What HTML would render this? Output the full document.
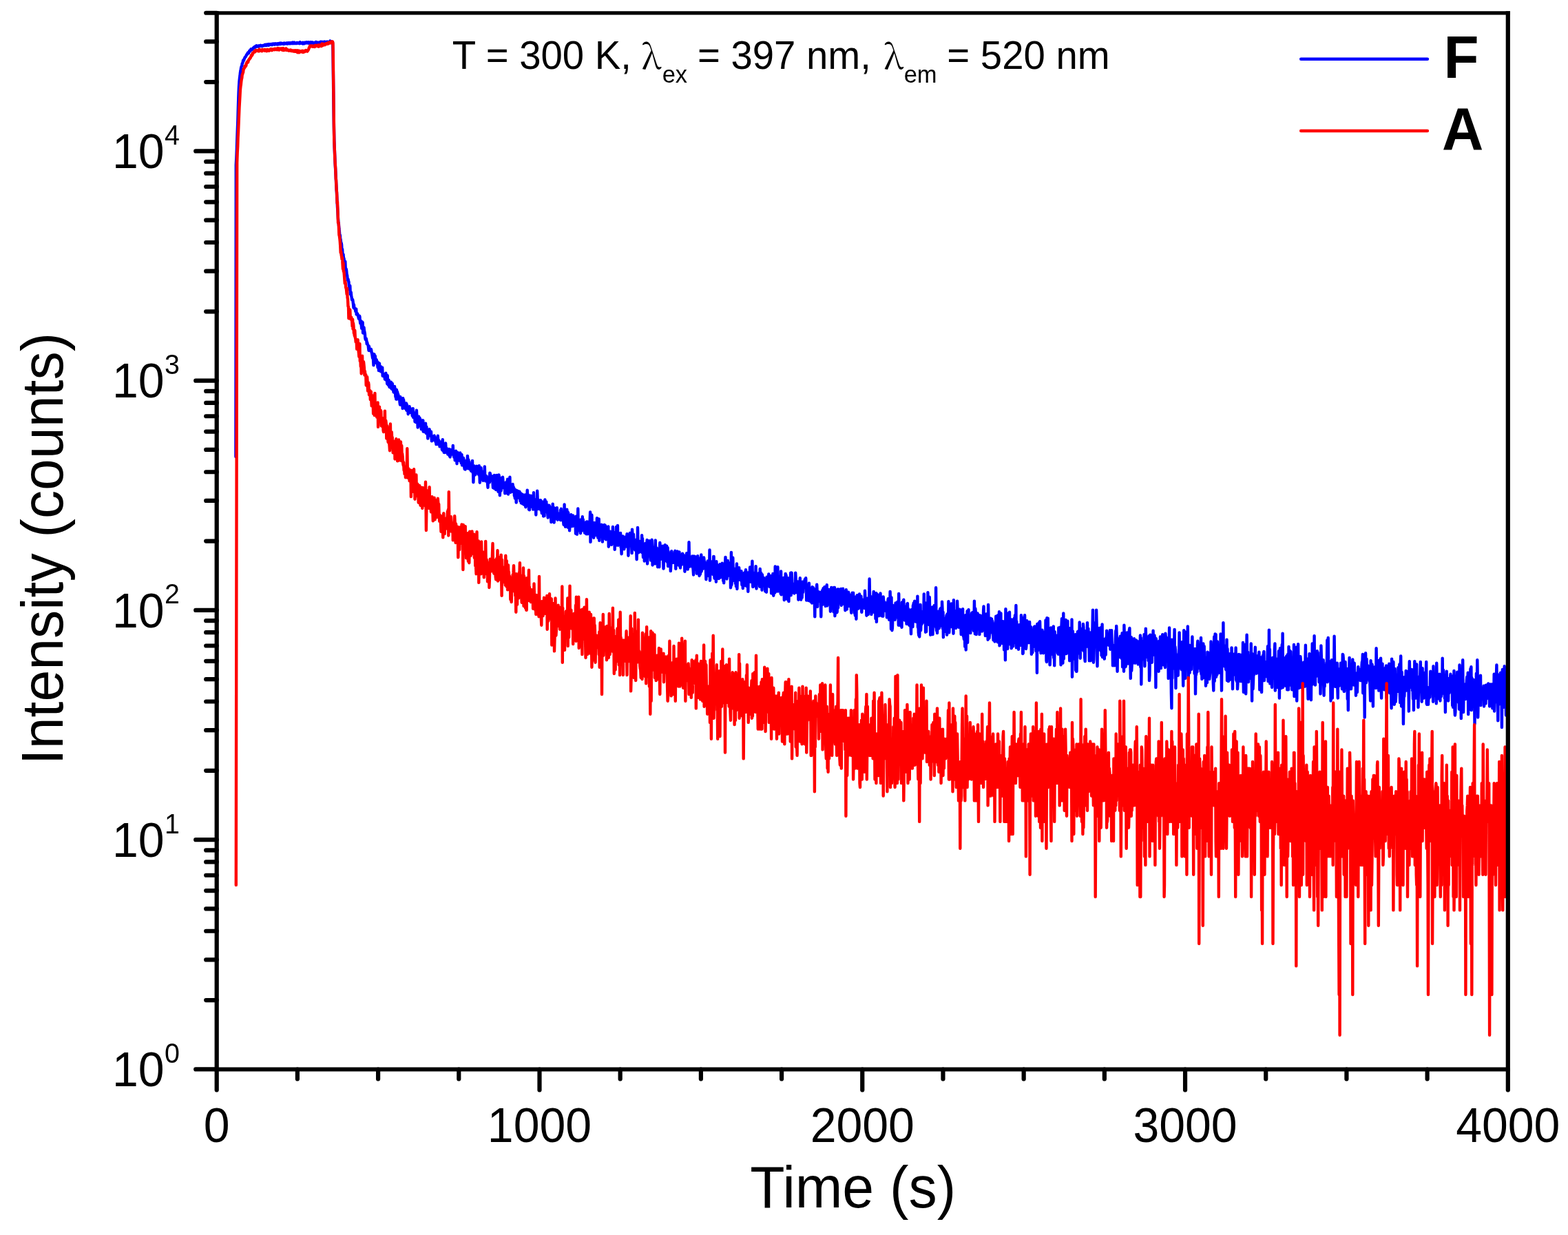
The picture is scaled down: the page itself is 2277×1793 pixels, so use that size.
<!DOCTYPE html>
<html><head><meta charset="utf-8"><title>Intensity vs Time</title>
<style>html,body{margin:0;padding:0;background:#fff;overflow:hidden}svg{display:block}</style>
</head><body>
<svg width="2277" height="1793" viewBox="0 0 2277 1793">
<rect width="2277" height="1793" fill="#fff"/>
<defs><clipPath id="c"><rect x="314.7" y="18.85" width="1875.1000000000001" height="1533.65"/></clipPath></defs>
<g clip-path="url(#c)">
<polyline fill="none" stroke="#0000ff" stroke-width="4.4" stroke-linejoin="round" stroke-linecap="round" points="342.4,663.0 342.8,239.7 343.3,229.8 343.8,217.4 344.2,205.0 344.7,191.4 345.2,178.8 345.6,166.4 346.1,148.2 346.6,134.2 347.0,125.5 347.5,117.9 348.0,113.2 348.5,109.9 348.9,105.7 349.4,103.0 349.9,99.9 350.3,97.6 350.8,96.1 351.3,95.4 351.7,92.3 352.2,91.8 352.7,90.2 353.1,87.7 353.6,87.4 354.1,87.6 354.5,85.7 355.0,85.2 355.5,83.6 356.0,82.8 356.4,82.7 356.9,82.2 357.4,81.0 357.8,79.9 358.3,79.6 358.8,78.5 359.2,78.6 359.7,77.1 360.2,76.4 360.6,77.0 361.1,77.2 361.6,75.8 362.0,74.5 362.5,73.5 363.0,73.7 363.5,73.9 363.9,73.1 364.4,71.3 364.9,72.4 365.3,71.8 365.8,72.1 366.3,72.1 366.7,71.2 367.2,70.4 367.7,69.9 368.1,69.4 368.6,68.8 369.1,68.3 369.5,69.4 370.0,68.5 370.5,67.6 371.0,67.8 371.4,67.5 371.9,68.1 372.4,66.3 372.8,66.6 373.3,67.2 373.8,67.2 374.2,66.7 374.7,66.8 375.2,67.7 375.6,66.7 376.1,66.3 376.6,66.4 377.0,66.5 377.5,66.7 378.0,66.6 378.5,65.9 378.9,66.6 379.4,67.0 379.9,66.5 380.3,66.9 380.8,67.1 381.3,66.6 381.7,65.9 382.2,65.9 382.7,66.3 383.1,66.0 383.6,66.0 384.1,66.1 384.5,65.1 385.0,65.8 385.5,66.0 386.0,64.9 386.4,65.2 386.9,65.2 387.4,65.8 387.8,64.5 388.3,64.4 388.8,65.6 389.2,65.6 389.7,64.7 390.2,65.7 390.6,64.1 391.1,64.8 391.6,64.7 392.0,65.0 392.5,64.4 393.0,64.0 393.5,64.7 393.9,64.6 394.4,64.6 394.9,65.1 395.3,63.8 395.8,64.7 396.3,64.6 396.7,63.5 397.2,64.3 397.7,63.8 398.1,64.1 398.6,64.6 399.1,63.8 399.5,63.3 400.0,63.7 400.5,64.1 401.0,63.5 401.4,63.9 401.9,63.4 402.4,63.4 402.8,64.6 403.3,63.4 403.8,63.8 404.2,63.6 404.7,63.2 405.2,64.1 405.6,63.5 406.1,63.9 406.6,63.3 407.0,62.6 407.5,63.2 408.0,64.0 408.5,62.8 408.9,63.5 409.4,62.9 409.9,63.4 410.3,63.3 410.8,63.4 411.3,63.6 411.7,63.9 412.2,62.6 412.7,62.5 413.1,63.8 413.6,63.7 414.1,63.1 414.6,63.2 415.0,63.0 415.5,62.6 416.0,63.1 416.4,62.6 416.9,62.8 417.4,63.7 417.8,63.2 418.3,62.4 418.8,63.1 419.2,62.4 419.7,63.3 420.2,62.7 420.6,62.2 421.1,62.2 421.6,63.2 422.1,62.3 422.5,63.1 423.0,62.6 423.5,63.0 423.9,62.7 424.4,62.6 424.9,61.6 425.3,63.2 425.8,62.0 426.3,62.3 426.7,63.0 427.2,61.6 427.7,62.2 428.1,62.9 428.6,62.5 429.1,62.7 429.6,63.0 430.0,62.7 430.5,63.0 431.0,62.0 431.4,62.4 431.9,62.4 432.4,62.0 432.8,62.7 433.3,62.5 433.8,62.4 434.2,62.9 434.7,62.7 435.2,63.2 435.6,61.2 436.1,62.1 436.6,62.2 437.1,62.8 437.5,62.5 438.0,62.1 438.5,62.3 438.9,62.0 439.4,61.8 439.9,63.6 440.3,62.5 440.8,62.4 441.3,62.2 441.7,61.9 442.2,63.3 442.7,62.9 443.1,62.0 443.6,62.2 444.1,61.8 444.6,61.4 445.0,62.4 445.5,62.5 446.0,61.7 446.4,61.9 446.9,62.1 447.4,62.2 447.8,61.3 448.3,62.7 448.8,61.9 449.2,62.3 449.7,61.5 450.2,62.4 450.6,62.8 451.1,61.2 451.6,62.7 452.1,62.7 452.5,61.9 453.0,61.5 453.5,62.5 453.9,61.6 454.4,62.1 454.9,62.5 455.3,63.1 455.8,62.1 456.3,62.3 456.7,62.3 457.2,62.3 457.7,62.3 458.1,62.2 458.6,60.9 459.1,61.9 459.6,62.2 460.0,61.3 460.5,62.1 461.0,62.1 461.4,62.2 461.9,61.9 462.4,62.5 462.8,62.2 463.3,61.8 463.8,61.4 464.2,62.3 464.7,61.1 465.2,61.1 465.6,61.2 466.1,60.7 466.6,61.2 467.1,61.3 467.5,61.2 468.0,61.3 468.5,61.8 468.9,60.7 469.4,61.1 469.9,62.1 470.3,61.0 470.8,61.7 471.3,60.9 471.7,60.5 472.2,61.7 472.7,61.1 473.1,61.8 473.6,61.4 474.1,61.6 474.6,61.0 475.0,60.6 475.5,60.8 476.0,61.6 476.4,61.1 476.9,61.4 477.4,61.0 477.8,60.7 478.3,61.1 478.8,60.5 479.2,59.4 479.7,60.8 480.2,60.8 480.6,61.5 481.1,60.2 481.6,61.8 482.1,60.5 482.5,60.7 483.0,61.2 483.5,74.5 483.9,107.5 484.4,147.6 484.9,183.6 485.3,202.8 485.8,216.5 486.3,228.0 486.7,237.9 487.2,246.9 487.7,255.5 488.1,265.4 488.6,273.5 489.1,283.0 489.6,292.4 490.0,300.6 490.5,308.2 491.0,317.8 491.4,321.8 491.9,325.8 492.4,331.6 492.8,335.1 493.3,341.4 493.8,341.2 494.2,345.5 494.7,348.4 495.2,352.7 495.6,352.8 496.1,355.3 496.6,365.5 497.1,361.6 497.5,368.7 498.0,369.0 498.5,369.2 498.9,374.1 499.4,374.9 499.9,378.6 500.3,384.3 500.8,381.5 501.3,379.7 501.7,388.7 502.2,390.7 502.7,390.5 503.1,392.5 503.6,398.3 504.1,399.5 504.6,404.1 505.0,406.6 505.5,405.2 506.0,408.5 506.4,408.6 506.9,415.2 507.4,417.3 507.8,420.6 508.3,414.9 508.8,427.2 509.2,425.0 509.7,424.3 510.2,429.7 510.7,431.9 511.1,435.3 511.6,435.2 512.1,435.0 512.5,437.2 513.0,441.5 513.5,446.7 513.9,442.2 514.4,446.8 514.9,447.4 515.3,448.6 515.8,448.7 516.3,452.0 516.7,449.9 517.2,448.5 517.7,456.5 518.2,456.7 518.6,456.9 519.1,455.4 519.6,457.0 520.0,458.4 520.5,460.5 521.0,462.7 521.4,459.9 521.9,458.5 522.4,459.6 522.8,465.6 523.3,469.4 523.8,465.8 524.2,469.2 524.7,471.7 525.2,476.7 525.7,467.2 526.1,473.0 526.6,467.9 527.1,483.5 527.5,475.7 528.0,481.0 528.5,475.5 528.9,479.9 529.4,481.9 529.9,484.7 530.3,490.7 530.8,493.1 531.3,492.5 531.7,491.6 532.2,493.7 532.7,499.3 533.2,497.1 533.6,499.3 534.1,500.5 534.6,501.2 535.0,504.6 535.5,508.8 536.0,502.9 536.4,507.8 536.9,506.4 537.4,508.9 537.8,508.4 538.3,509.5 538.8,506.9 539.2,508.5 539.7,511.8 540.2,514.0 540.7,517.2 541.1,519.9 541.6,513.6 542.1,523.3 542.5,530.4 543.0,515.7 543.5,514.4 543.9,522.2 544.4,523.9 544.9,517.0 545.3,524.8 545.8,524.0 546.3,527.0 546.7,522.2 547.2,524.8 547.7,524.7 548.2,529.5 548.6,533.6 549.1,528.2 549.6,526.6 550.0,538.1 550.5,537.8 551.0,527.6 551.4,534.0 551.9,537.0 552.4,532.4 552.8,539.2 553.3,532.5 553.8,539.2 554.2,537.2 554.7,540.4 555.2,533.6 555.7,545.9 556.1,544.2 556.6,545.2 557.1,546.1 557.5,544.7 558.0,543.8 558.5,544.0 558.9,550.6 559.4,549.0 559.9,551.2 560.3,541.7 560.8,545.5 561.3,546.7 561.7,548.9 562.2,557.2 562.7,545.3 563.2,557.0 563.6,558.6 564.1,555.9 564.6,551.6 565.0,559.5 565.5,561.9 566.0,556.4 566.4,560.8 566.9,560.3 567.4,562.9 567.8,554.6 568.3,563.5 568.8,564.8 569.2,559.2 569.7,556.7 570.2,563.2 570.7,565.0 571.1,566.7 571.6,569.4 572.1,567.7 572.5,569.1 573.0,561.0 573.5,564.9 573.9,567.4 574.4,576.2 574.9,573.3 575.3,579.6 575.8,565.6 576.3,567.8 576.7,579.5 577.2,569.1 577.7,577.9 578.2,572.4 578.6,577.3 579.1,575.2 579.6,577.6 580.0,577.1 580.5,583.9 581.0,587.5 581.4,576.3 581.9,583.7 582.4,583.9 582.8,578.8 583.3,587.7 583.8,584.3 584.2,584.4 584.7,593.0 585.2,578.1 585.7,591.2 586.1,580.5 586.6,584.5 587.1,587.8 587.5,587.1 588.0,588.7 588.5,593.0 588.9,586.8 589.4,590.5 589.9,585.5 590.3,595.7 590.8,587.2 591.3,591.0 591.7,590.4 592.2,592.8 592.7,601.2 593.2,592.1 593.6,592.6 594.1,593.7 594.6,590.3 595.0,594.9 595.5,593.7 596.0,597.2 596.4,599.1 596.9,595.7 597.4,593.7 597.8,597.9 598.3,599.5 598.8,603.8 599.2,601.6 599.7,593.2 600.2,606.1 600.7,600.9 601.1,605.2 601.6,602.5 602.1,599.3 602.5,612.3 603.0,599.7 603.5,607.2 603.9,613.0 604.4,610.1 604.9,595.7 605.3,603.5 605.8,604.0 606.3,609.9 606.7,620.6 607.2,608.2 607.7,608.9 608.2,604.8 608.6,617.1 609.1,617.7 609.6,607.0 610.0,617.1 610.5,609.0 611.0,613.9 611.4,620.1 611.9,623.2 612.4,618.2 612.8,621.7 613.3,620.5 613.8,612.7 614.3,610.3 614.7,626.6 615.2,616.4 615.7,620.8 616.1,622.4 616.6,618.5 617.1,627.4 617.5,618.5 618.0,614.6 618.5,621.9 618.9,629.1 619.4,619.7 619.9,625.4 620.3,623.8 620.8,628.7 621.3,636.6 621.8,631.6 622.2,630.3 622.7,631.7 623.2,625.9 623.6,623.1 624.1,632.2 624.6,630.7 625.0,629.0 625.5,633.0 626.0,626.7 626.4,632.8 626.9,640.4 627.4,638.7 627.8,638.9 628.3,637.1 628.8,636.6 629.3,638.9 629.7,636.2 630.2,632.9 630.7,632.6 631.1,637.8 631.6,635.0 632.1,638.3 632.5,641.4 633.0,641.5 633.5,645.1 633.9,642.4 634.4,638.0 634.9,642.5 635.3,644.8 635.8,632.8 636.3,641.5 636.8,644.7 637.2,639.2 637.7,642.2 638.2,644.6 638.6,648.4 639.1,645.3 639.6,645.3 640.0,643.7 640.5,641.8 641.0,646.4 641.4,642.8 641.9,653.0 642.4,645.8 642.8,638.2 643.3,654.4 643.8,644.4 644.3,648.6 644.7,656.8 645.2,649.4 645.7,657.1 646.1,649.2 646.6,646.5 647.1,643.4 647.5,650.1 648.0,655.6 648.5,650.6 648.9,656.4 649.4,657.6 649.9,653.7 650.3,659.6 650.8,655.2 651.3,656.2 651.8,652.6 652.2,652.0 652.7,662.0 653.2,652.5 653.6,663.5 654.1,659.3 654.6,653.0 655.0,656.5 655.5,653.4 656.0,655.6 656.4,653.1 656.9,655.2 657.4,656.4 657.8,646.9 658.3,661.0 658.8,658.8 659.3,663.7 659.7,664.0 660.2,659.2 660.7,668.4 661.1,663.5 661.6,662.5 662.1,654.7 662.5,655.7 663.0,658.5 663.5,673.2 663.9,659.0 664.4,656.8 664.9,660.1 665.3,667.5 665.8,666.3 666.3,668.5 666.8,659.7 667.2,665.1 667.7,668.8 668.2,657.4 668.6,666.4 669.1,665.2 669.6,672.1 670.0,664.3 670.5,660.0 671.0,675.5 671.4,666.2 671.9,670.9 672.4,672.8 672.8,664.6 673.3,666.4 673.8,673.6 674.3,678.5 674.7,680.9 675.2,675.1 675.7,681.6 676.1,675.1 676.6,669.1 677.1,669.2 677.5,669.1 678.0,668.9 678.5,673.2 678.9,662.0 679.4,668.9 679.9,680.3 680.3,667.4 680.8,678.5 681.3,670.5 681.8,679.2 682.2,677.0 682.7,681.5 683.2,675.1 683.6,674.4 684.1,683.9 684.6,680.0 685.0,674.9 685.5,680.0 686.0,668.9 686.4,685.9 686.9,676.5 687.4,700.2 687.8,687.4 688.3,676.7 688.8,676.6 689.3,680.7 689.7,678.8 690.2,689.2 690.7,683.9 691.1,686.6 691.6,684.3 692.1,678.7 692.5,676.8 693.0,681.1 693.5,679.0 693.9,687.2 694.4,679.2 694.9,688.4 695.3,689.4 695.8,676.3 696.3,684.5 696.8,700.8 697.2,687.6 697.7,687.5 698.2,691.2 698.6,679.3 699.1,688.3 699.6,685.3 700.0,689.8 700.5,686.8 701.0,689.8 701.4,697.9 701.9,690.3 702.4,686.4 702.8,684.2 703.3,690.7 703.8,677.5 704.3,692.8 704.7,695.6 705.2,698.4 705.7,692.0 706.1,691.8 706.6,691.4 707.1,696.2 707.5,696.0 708.0,702.1 708.5,707.7 708.9,696.0 709.4,695.7 709.9,700.0 710.4,697.7 710.8,700.3 711.3,686.8 711.8,687.2 712.2,694.3 712.7,697.6 713.2,696.2 713.6,696.4 714.1,694.3 714.6,691.3 715.0,693.1 715.5,699.9 716.0,708.1 716.4,701.1 716.9,699.5 717.4,709.0 717.9,689.9 718.3,695.6 718.8,701.9 719.3,696.7 719.7,690.6 720.2,711.1 720.7,703.6 721.1,708.3 721.6,689.9 722.1,707.0 722.5,703.1 723.0,704.2 723.5,713.8 723.9,701.2 724.4,689.4 724.9,692.0 725.4,700.5 725.8,719.3 726.3,708.7 726.8,704.3 727.2,695.0 727.7,712.5 728.2,693.9 728.6,702.8 729.1,707.0 729.6,700.5 730.0,692.7 730.5,698.4 731.0,708.3 731.4,706.0 731.9,701.9 732.4,700.9 732.9,705.4 733.3,716.3 733.8,704.6 734.3,707.2 734.7,712.8 735.2,709.0 735.7,699.5 736.1,708.1 736.6,716.0 737.1,695.6 737.5,708.7 738.0,717.5 738.5,710.3 738.9,713.9 739.4,712.5 739.9,708.6 740.4,692.7 740.8,710.0 741.3,714.9 741.8,706.1 742.2,713.0 742.7,713.9 743.2,713.3 743.6,711.7 744.1,706.3 744.6,703.0 745.0,713.4 745.5,706.6 746.0,714.6 746.4,708.7 746.9,720.0 747.4,719.6 747.9,723.5 748.3,710.9 748.8,714.1 749.3,718.0 749.7,729.6 750.2,719.5 750.7,712.2 751.1,717.6 751.6,718.0 752.1,718.8 752.5,713.3 753.0,720.6 753.5,716.5 753.9,723.2 754.4,713.8 754.9,714.9 755.4,727.3 755.8,717.6 756.3,716.3 756.8,730.3 757.2,727.7 757.7,730.5 758.2,725.8 758.6,717.6 759.1,731.6 759.6,725.9 760.0,730.0 760.5,725.4 761.0,732.7 761.4,730.2 761.9,731.2 762.4,718.5 762.9,727.0 763.3,736.2 763.8,733.8 764.3,727.3 764.7,731.2 765.2,728.0 765.7,711.7 766.1,721.8 766.6,728.6 767.1,727.5 767.5,718.8 768.0,739.6 768.5,727.3 768.9,740.4 769.4,727.7 769.9,731.2 770.4,724.2 770.8,719.6 771.3,730.9 771.8,725.4 772.2,735.8 772.7,730.5 773.2,731.1 773.6,728.7 774.1,739.6 774.6,726.3 775.0,715.2 775.5,734.9 776.0,728.9 776.4,733.2 776.9,739.8 777.4,727.7 777.9,730.3 778.3,747.5 778.8,724.9 779.3,737.7 779.7,736.6 780.2,712.8 780.7,725.4 781.1,725.1 781.6,739.0 782.1,730.0 782.5,737.3 783.0,735.3 783.5,730.9 783.9,733.8 784.4,739.0 784.9,726.1 785.4,740.6 785.8,727.3 786.3,737.5 786.8,745.1 787.2,728.4 787.7,728.7 788.2,733.8 788.6,730.7 789.1,749.5 789.6,732.5 790.0,743.1 790.5,749.1 791.0,727.5 791.4,725.4 791.9,743.1 792.4,735.3 792.9,730.5 793.3,728.4 793.8,738.5 794.3,740.4 794.7,740.9 795.2,745.1 795.7,751.6 796.1,736.4 796.6,733.8 797.1,749.3 797.5,733.6 798.0,735.1 798.5,740.8 798.9,736.6 799.4,739.6 799.9,743.1 800.4,758.1 800.8,742.7 801.3,750.5 801.8,739.6 802.2,754.9 802.7,731.8 803.2,750.1 803.6,736.2 804.1,739.6 804.6,758.6 805.0,753.2 805.5,737.7 806.0,738.1 806.5,741.7 806.9,750.9 807.4,738.6 807.9,746.9 808.3,744.9 808.8,737.1 809.3,754.3 809.7,754.7 810.2,746.5 810.7,748.1 811.1,751.1 811.6,745.7 812.1,753.6 812.5,747.9 813.0,753.0 813.5,754.7 814.0,740.4 814.4,755.3 814.9,738.8 815.4,752.8 815.8,746.7 816.3,754.9 816.8,748.9 817.2,747.7 817.7,750.5 818.2,757.9 818.6,761.7 819.1,757.9 819.6,732.5 820.0,752.0 820.5,761.0 821.0,764.8 821.5,752.2 821.9,749.1 822.4,740.2 822.9,756.2 823.3,739.8 823.8,750.3 824.3,743.3 824.7,765.7 825.2,744.3 825.7,763.0 826.1,754.5 826.6,759.4 827.1,770.4 827.5,754.1 828.0,765.5 828.5,760.5 829.0,763.5 829.4,747.1 829.9,750.3 830.4,763.5 830.8,755.1 831.3,761.9 831.8,763.9 832.2,748.5 832.7,753.0 833.2,757.3 833.6,760.1 834.1,761.9 834.6,760.1 835.0,763.0 835.5,754.5 836.0,774.7 836.5,749.7 836.9,757.3 837.4,756.0 837.9,775.7 838.3,771.3 838.8,763.7 839.3,738.5 839.7,761.7 840.2,754.3 840.7,769.9 841.1,755.1 841.6,759.0 842.1,769.7 842.5,763.7 843.0,774.2 843.5,757.1 844.0,754.1 844.4,765.3 844.9,770.6 845.4,766.9 845.8,750.3 846.3,767.8 846.8,754.3 847.2,765.5 847.7,759.4 848.2,760.1 848.6,761.9 849.1,773.7 849.6,765.3 850.0,764.4 850.5,767.3 851.0,758.1 851.5,775.4 851.9,757.5 852.4,774.9 852.9,757.5 853.3,775.4 853.8,766.9 854.3,771.8 854.7,768.0 855.2,768.0 855.7,770.1 856.1,761.2 856.6,757.7 857.1,743.5 857.5,786.9 858.0,767.8 858.5,775.4 859.0,770.4 859.4,747.7 859.9,766.6 860.4,759.4 860.8,759.2 861.3,763.5 861.8,777.2 862.2,780.7 862.7,777.2 863.2,759.0 863.6,763.2 864.1,770.1 864.6,762.8 865.0,772.5 865.5,764.4 866.0,759.9 866.5,777.4 866.9,752.2 867.4,772.5 867.9,764.6 868.3,780.7 868.8,770.1 869.3,773.2 869.7,753.4 870.2,784.8 870.7,771.8 871.1,775.4 871.6,763.0 872.1,777.2 872.5,766.4 873.0,767.3 873.5,761.7 874.0,764.6 874.4,762.3 874.9,786.6 875.4,771.3 875.8,771.3 876.3,777.9 876.8,763.7 877.2,776.7 877.7,761.9 878.2,781.9 878.6,769.9 879.1,763.2 879.6,779.7 880.0,783.2 880.5,782.7 881.0,773.5 881.5,772.0 881.9,768.7 882.4,773.7 882.9,772.8 883.3,764.4 883.8,793.7 884.3,779.9 884.7,780.9 885.2,781.7 885.7,790.1 886.1,771.8 886.6,774.5 887.1,777.4 887.5,786.9 888.0,790.9 888.5,779.7 889.0,778.6 889.4,786.9 889.9,765.0 890.4,784.0 890.8,785.8 891.3,789.3 891.8,774.0 892.2,773.0 892.7,797.9 893.2,778.1 893.6,776.7 894.1,780.7 894.6,781.9 895.0,765.0 895.5,791.5 896.0,778.9 896.5,785.6 896.9,763.0 897.4,791.7 897.9,785.6 898.3,781.7 898.8,774.5 899.3,782.7 899.7,780.2 900.2,790.1 900.7,779.7 901.1,774.0 901.6,794.5 902.1,795.1 902.6,804.3 903.0,783.5 903.5,788.0 904.0,787.4 904.4,778.4 904.9,795.4 905.4,785.8 905.8,787.4 906.3,797.3 906.8,794.5 907.2,779.7 907.7,780.9 908.2,790.4 908.6,790.7 909.1,789.8 909.6,783.5 910.1,781.9 910.5,775.2 911.0,794.2 911.5,792.3 911.9,784.3 912.4,806.7 912.9,789.6 913.3,790.4 913.8,789.3 914.3,787.4 914.7,774.0 915.2,790.9 915.7,792.0 916.1,773.7 916.6,785.8 917.1,790.9 917.6,803.1 918.0,768.7 918.5,776.4 919.0,786.1 919.4,795.1 919.9,775.7 920.4,784.5 920.8,793.1 921.3,796.5 921.8,792.8 922.2,798.5 922.7,794.0 923.2,784.0 923.6,787.2 924.1,795.9 924.6,812.3 925.1,793.4 925.5,794.8 926.0,766.0 926.5,786.4 926.9,788.8 927.4,802.3 927.9,799.3 928.3,785.6 928.8,792.3 929.3,788.2 929.7,793.7 930.2,793.4 930.7,801.1 931.1,791.2 931.6,801.7 932.1,777.2 932.6,798.8 933.0,781.9 933.5,797.6 934.0,809.2 934.4,791.2 934.9,804.3 935.4,794.8 935.8,814.6 936.3,801.4 936.8,790.4 937.2,789.0 937.7,795.6 938.2,795.6 938.6,796.5 939.1,801.4 939.6,784.0 940.1,818.5 940.5,810.8 941.0,801.4 941.5,803.7 941.9,788.0 942.4,798.5 942.9,785.3 943.3,803.1 943.8,794.5 944.3,786.9 944.7,800.8 945.2,813.6 945.7,804.6 946.1,808.0 946.6,783.7 947.1,791.7 947.6,820.5 948.0,804.9 948.5,795.1 949.0,799.9 949.4,799.6 949.9,797.0 950.4,800.8 950.8,794.2 951.3,818.5 951.8,784.5 952.2,798.2 952.7,800.8 953.2,798.8 953.6,795.4 954.1,805.2 954.6,805.2 955.1,823.2 955.5,797.9 956.0,807.7 956.5,800.5 956.9,801.7 957.4,823.2 957.9,797.0 958.3,788.0 958.8,793.1 959.3,811.4 959.7,811.7 960.2,808.3 960.7,801.1 961.1,811.1 961.6,802.8 962.1,810.1 962.6,792.8 963.0,808.0 963.5,825.6 964.0,814.2 964.4,804.6 964.9,806.4 965.4,802.3 965.8,791.2 966.3,804.6 966.8,792.8 967.2,814.2 967.7,808.0 968.2,792.8 968.6,806.1 969.1,816.2 969.6,795.1 970.1,822.1 970.5,800.5 971.0,808.6 971.5,804.0 971.9,810.8 972.4,815.8 972.9,805.5 973.3,810.8 973.8,829.1 974.3,819.5 974.7,804.9 975.2,800.2 975.7,806.7 976.1,807.4 976.6,816.8 977.1,808.0 977.6,813.6 978.0,816.8 978.5,815.8 979.0,814.9 979.4,811.4 979.9,800.8 980.4,799.9 980.8,804.6 981.3,825.9 981.8,807.7 982.2,810.8 982.7,813.3 983.2,820.5 983.6,800.5 984.1,804.3 984.6,805.2 985.1,814.2 985.5,812.6 986.0,804.6 986.5,801.4 986.9,821.8 987.4,811.1 987.9,824.5 988.3,820.1 988.8,806.1 989.3,805.8 989.7,811.4 990.2,819.5 990.7,817.8 991.1,803.7 991.6,808.6 992.1,817.1 992.6,805.8 993.0,812.0 993.5,812.0 994.0,814.2 994.4,829.8 994.9,822.5 995.4,810.1 995.8,820.5 996.3,812.0 996.8,807.4 997.2,803.1 997.7,812.6 998.2,813.6 998.7,826.6 999.1,820.1 999.6,816.5 1000.1,812.6 1000.5,787.2 1001.0,813.0 1001.5,822.5 1001.9,815.5 1002.4,813.9 1002.9,818.1 1003.3,811.7 1003.8,811.7 1004.3,811.4 1004.7,812.6 1005.2,807.4 1005.7,823.8 1006.2,817.1 1006.6,826.9 1007.1,834.5 1007.6,807.4 1008.0,826.9 1008.5,818.1 1009.0,823.5 1009.4,808.3 1009.9,820.8 1010.4,824.5 1010.8,822.8 1011.3,811.7 1011.8,832.7 1012.2,810.8 1012.7,820.8 1013.2,807.1 1013.7,816.5 1014.1,830.1 1014.6,831.6 1015.1,826.6 1015.5,836.0 1016.0,834.1 1016.5,810.8 1016.9,833.7 1017.4,810.4 1017.9,830.5 1018.3,805.5 1018.8,829.1 1019.3,819.1 1019.7,817.1 1020.2,821.1 1020.7,824.5 1021.2,825.6 1021.6,820.1 1022.1,809.5 1022.6,813.6 1023.0,816.5 1023.5,817.5 1024.0,824.9 1024.4,821.8 1024.9,824.9 1025.4,841.3 1025.8,821.5 1026.3,826.2 1026.8,830.1 1027.2,816.8 1027.7,814.6 1028.2,818.5 1028.7,836.0 1029.1,817.5 1029.6,815.5 1030.1,834.1 1030.5,798.5 1031.0,842.8 1031.5,825.9 1031.9,817.8 1032.4,822.1 1032.9,817.5 1033.3,829.4 1033.8,828.0 1034.3,815.2 1034.7,829.8 1035.2,833.7 1035.7,831.9 1036.2,808.0 1036.6,808.0 1037.1,832.7 1037.6,839.7 1038.0,816.5 1038.5,816.8 1039.0,822.5 1039.4,819.5 1039.9,844.8 1040.4,815.2 1040.8,827.6 1041.3,819.8 1041.8,824.5 1042.2,828.7 1042.7,825.9 1043.2,826.2 1043.7,840.1 1044.1,822.8 1044.6,823.2 1045.1,830.5 1045.5,819.1 1046.0,838.6 1046.5,831.9 1046.9,826.2 1047.4,831.6 1047.9,823.8 1048.3,831.2 1048.8,817.8 1049.3,832.3 1049.7,818.8 1050.2,843.2 1050.7,831.6 1051.2,846.4 1051.6,821.1 1052.1,825.9 1052.6,835.2 1053.0,818.8 1053.5,808.9 1054.0,817.8 1054.4,829.8 1054.9,827.3 1055.4,840.5 1055.8,837.1 1056.3,826.6 1056.8,813.9 1057.2,834.8 1057.7,821.8 1058.2,835.6 1058.7,834.8 1059.1,817.5 1059.6,824.5 1060.1,827.3 1060.5,822.1 1061.0,853.3 1061.5,849.6 1061.9,802.0 1062.4,849.2 1062.9,841.7 1063.3,819.5 1063.8,842.0 1064.3,809.8 1064.7,833.4 1065.2,828.0 1065.7,842.8 1066.2,840.1 1066.6,827.3 1067.1,825.9 1067.6,830.5 1068.0,847.2 1068.5,839.3 1069.0,851.3 1069.4,833.0 1069.9,818.5 1070.4,855.0 1070.8,841.3 1071.3,839.0 1071.8,836.3 1072.2,834.8 1072.7,834.1 1073.2,824.2 1073.7,831.2 1074.1,833.7 1074.6,842.0 1075.1,833.4 1075.5,842.0 1076.0,841.3 1076.5,829.1 1076.9,835.2 1077.4,849.2 1077.9,840.1 1078.3,842.8 1078.8,854.2 1079.3,832.7 1079.7,840.5 1080.2,842.4 1080.7,831.9 1081.2,841.7 1081.6,837.1 1082.1,830.5 1082.6,850.4 1083.0,827.3 1083.5,833.7 1084.0,848.4 1084.4,836.7 1084.9,851.3 1085.4,844.4 1085.8,842.8 1086.3,858.9 1086.8,831.2 1087.2,835.6 1087.7,840.5 1088.2,843.2 1088.7,834.8 1089.1,823.5 1089.6,839.3 1090.1,844.8 1090.5,839.3 1091.0,836.0 1091.5,840.1 1091.9,827.6 1092.4,814.6 1092.9,844.4 1093.3,852.1 1093.8,842.4 1094.3,832.3 1094.7,836.7 1095.2,839.0 1095.7,831.6 1096.2,850.8 1096.6,845.6 1097.1,850.4 1097.6,822.1 1098.0,848.8 1098.5,854.6 1099.0,833.0 1099.4,844.8 1099.9,837.5 1100.4,846.8 1100.8,842.0 1101.3,840.1 1101.8,844.0 1102.3,831.6 1102.7,840.9 1103.2,851.7 1103.7,825.9 1104.1,836.3 1104.6,842.4 1105.1,831.6 1105.5,835.2 1106.0,834.5 1106.5,856.7 1106.9,834.1 1107.4,839.3 1107.9,848.8 1108.3,848.0 1108.8,838.6 1109.3,846.8 1109.8,843.6 1110.2,842.8 1110.7,840.5 1111.2,858.5 1111.6,844.0 1112.1,843.6 1112.6,844.8 1113.0,859.8 1113.5,837.8 1114.0,846.4 1114.4,840.5 1114.9,850.4 1115.4,847.6 1115.8,848.8 1116.3,833.4 1116.8,843.2 1117.3,851.7 1117.7,851.3 1118.2,851.3 1118.7,837.5 1119.1,846.0 1119.6,836.3 1120.1,861.5 1120.5,844.0 1121.0,843.2 1121.5,842.4 1121.9,858.9 1122.4,833.0 1122.9,859.8 1123.3,864.7 1123.8,848.8 1124.3,832.7 1124.8,839.7 1125.2,860.6 1125.7,822.5 1126.2,858.0 1126.6,848.8 1127.1,832.3 1127.6,858.5 1128.0,831.2 1128.5,857.2 1129.0,844.8 1129.4,823.2 1129.9,858.5 1130.4,848.4 1130.8,855.9 1131.3,855.9 1131.8,837.8 1132.3,849.2 1132.7,845.6 1133.2,855.9 1133.7,862.0 1134.1,829.4 1134.6,863.3 1135.1,861.5 1135.5,849.2 1136.0,859.8 1136.5,846.8 1136.9,851.3 1137.4,848.8 1137.9,839.0 1138.3,840.5 1138.8,871.2 1139.3,847.2 1139.8,854.6 1140.2,852.1 1140.7,833.0 1141.2,850.4 1141.6,835.2 1142.1,845.6 1142.6,869.8 1143.0,841.7 1143.5,860.2 1144.0,839.3 1144.4,861.1 1144.9,870.7 1145.4,873.1 1145.8,855.0 1146.3,842.4 1146.8,858.0 1147.3,846.0 1147.7,840.9 1148.2,831.6 1148.7,864.2 1149.1,833.7 1149.6,831.6 1150.1,842.0 1150.5,859.8 1151.0,860.2 1151.5,849.2 1151.9,857.6 1152.4,852.1 1152.9,848.0 1153.3,861.5 1153.8,853.3 1154.3,851.3 1154.8,852.5 1155.2,831.6 1155.7,840.5 1156.2,860.2 1156.6,852.1 1157.1,858.5 1157.6,856.3 1158.0,852.1 1158.5,844.4 1159.0,849.6 1159.4,870.7 1159.9,852.5 1160.4,867.9 1160.8,860.6 1161.3,852.5 1161.8,839.3 1162.3,859.8 1162.7,848.0 1163.2,870.7 1163.7,852.5 1164.1,854.2 1164.6,867.9 1165.1,857.6 1165.5,844.8 1166.0,859.8 1166.5,847.6 1166.9,844.4 1167.4,851.7 1167.9,850.4 1168.3,850.4 1168.8,841.3 1169.3,852.1 1169.8,852.9 1170.2,839.3 1170.7,856.3 1171.2,871.6 1171.6,849.6 1172.1,855.9 1172.6,870.2 1173.0,856.7 1173.5,860.2 1174.0,867.0 1174.4,872.1 1174.9,846.8 1175.4,859.3 1175.8,855.0 1176.3,863.8 1176.8,860.6 1177.3,873.6 1177.7,860.2 1178.2,857.2 1178.7,869.3 1179.1,875.5 1179.6,852.1 1180.1,864.7 1180.5,866.0 1181.0,853.3 1181.5,858.5 1181.9,865.6 1182.4,866.5 1182.9,878.0 1183.3,895.4 1183.8,860.2 1184.3,863.8 1184.8,873.1 1185.2,855.0 1185.7,857.2 1186.2,848.8 1186.6,857.6 1187.1,881.0 1187.6,861.1 1188.0,862.9 1188.5,859.3 1189.0,872.1 1189.4,860.2 1189.9,861.1 1190.4,859.8 1190.8,864.7 1191.3,874.0 1191.8,871.2 1192.3,895.4 1192.7,866.0 1193.2,871.2 1193.7,870.7 1194.1,857.2 1194.6,858.0 1195.1,877.5 1195.5,854.2 1196.0,868.3 1196.5,866.0 1196.9,870.7 1197.4,852.1 1197.9,868.8 1198.4,852.5 1198.8,880.0 1199.3,865.1 1199.8,870.7 1200.2,865.1 1200.7,849.2 1201.2,879.5 1201.6,867.9 1202.1,860.2 1202.6,863.8 1203.0,876.5 1203.5,855.9 1204.0,877.0 1204.4,856.3 1204.9,863.3 1205.4,867.4 1205.9,887.7 1206.3,855.9 1206.8,862.9 1207.3,852.9 1207.7,856.7 1208.2,857.6 1208.7,859.8 1209.1,883.5 1209.6,880.0 1210.1,858.9 1210.5,888.3 1211.0,852.9 1211.5,875.0 1211.9,852.9 1212.4,894.3 1212.9,877.5 1213.4,870.7 1213.8,879.5 1214.3,867.9 1214.8,861.5 1215.2,889.3 1215.7,888.3 1216.2,855.4 1216.6,872.6 1217.1,882.5 1217.6,855.4 1218.0,863.8 1218.5,860.2 1219.0,863.8 1219.4,856.3 1219.9,866.0 1220.4,875.5 1220.9,864.2 1221.3,855.0 1221.8,879.0 1222.3,867.0 1222.7,865.1 1223.2,861.1 1223.7,877.0 1224.1,854.6 1224.6,876.5 1225.1,859.3 1225.5,868.8 1226.0,874.0 1226.5,858.9 1226.9,871.2 1227.4,886.2 1227.9,871.6 1228.4,867.9 1228.8,856.3 1229.3,865.6 1229.8,884.6 1230.2,867.0 1230.7,871.2 1231.2,880.0 1231.6,863.8 1232.1,859.8 1232.6,862.0 1233.0,880.0 1233.5,874.0 1234.0,863.8 1234.4,870.7 1234.9,872.6 1235.4,872.1 1235.9,885.6 1236.3,889.9 1236.8,877.5 1237.3,866.0 1237.7,860.6 1238.2,862.0 1238.7,872.1 1239.1,860.6 1239.6,874.0 1240.1,877.0 1240.5,872.1 1241.0,890.4 1241.5,887.2 1241.9,893.7 1242.4,871.2 1242.9,866.5 1243.4,898.8 1243.8,871.6 1244.3,884.6 1244.8,864.2 1245.2,878.5 1245.7,879.0 1246.2,874.5 1246.6,883.5 1247.1,879.5 1247.6,866.0 1248.0,862.4 1248.5,870.7 1249.0,867.4 1249.4,877.5 1249.9,878.5 1250.4,865.6 1250.9,880.0 1251.3,888.8 1251.8,881.0 1252.3,876.5 1252.7,870.7 1253.2,879.0 1253.7,873.1 1254.1,875.0 1254.6,876.5 1255.1,880.5 1255.5,883.0 1256.0,857.6 1256.5,868.8 1256.9,869.3 1257.4,880.5 1257.9,877.5 1258.4,893.7 1258.8,880.0 1259.3,883.5 1259.8,868.8 1260.2,868.8 1260.7,892.1 1261.2,880.0 1261.6,887.7 1262.1,877.5 1262.6,840.5 1263.0,864.2 1263.5,878.5 1264.0,865.6 1264.4,883.0 1264.9,866.5 1265.4,892.1 1265.9,884.1 1266.3,868.8 1266.8,874.5 1267.3,888.8 1267.7,882.5 1268.2,867.9 1268.7,858.9 1269.1,888.8 1269.6,886.2 1270.1,883.5 1270.5,868.8 1271.0,878.5 1271.5,898.2 1271.9,888.3 1272.4,861.1 1272.9,902.9 1273.4,862.4 1273.8,864.7 1274.3,863.3 1274.8,869.8 1275.2,884.6 1275.7,872.6 1276.2,894.3 1276.6,869.8 1277.1,888.8 1277.6,893.2 1278.0,875.0 1278.5,861.5 1279.0,885.1 1279.4,877.5 1279.9,885.6 1280.4,894.3 1280.9,875.5 1281.3,884.1 1281.8,881.5 1282.3,894.8 1282.7,866.5 1283.2,873.1 1283.7,883.5 1284.1,873.6 1284.6,881.0 1285.1,876.5 1285.5,886.7 1286.0,885.1 1286.5,881.0 1286.9,883.5 1287.4,877.5 1287.9,896.5 1288.4,874.5 1288.8,888.8 1289.3,873.1 1289.8,869.3 1290.2,886.2 1290.7,875.0 1291.2,899.9 1291.6,895.4 1292.1,894.8 1292.6,858.9 1293.0,874.0 1293.5,882.0 1294.0,913.3 1294.5,867.4 1294.9,904.7 1295.4,915.2 1295.9,912.0 1296.3,898.2 1296.8,879.0 1297.3,880.5 1297.7,894.8 1298.2,884.1 1298.7,891.5 1299.1,892.1 1299.6,899.9 1300.1,886.7 1300.5,875.5 1301.0,879.0 1301.5,882.0 1302.0,892.1 1302.4,884.1 1302.9,890.4 1303.4,873.6 1303.8,897.1 1304.3,886.7 1304.8,907.7 1305.2,862.0 1305.7,898.2 1306.2,894.8 1306.6,885.1 1307.1,893.2 1307.6,908.3 1308.0,901.1 1308.5,884.6 1309.0,900.5 1309.5,910.8 1309.9,874.5 1310.4,874.0 1310.9,896.0 1311.3,884.1 1311.8,873.1 1312.3,870.7 1312.7,883.0 1313.2,888.3 1313.7,900.5 1314.1,893.7 1314.6,888.8 1315.1,887.2 1315.5,880.5 1316.0,890.4 1316.5,905.9 1317.0,892.1 1317.4,876.5 1317.9,876.0 1318.4,899.9 1318.8,902.9 1319.3,884.1 1319.8,896.5 1320.2,907.7 1320.7,891.5 1321.2,903.5 1321.6,888.3 1322.1,909.5 1322.6,908.9 1323.0,920.4 1323.5,885.1 1324.0,886.7 1324.5,899.4 1324.9,897.7 1325.4,910.1 1325.9,879.0 1326.3,880.5 1326.8,875.5 1327.3,897.1 1327.7,902.3 1328.2,872.6 1328.7,879.0 1329.1,876.5 1329.6,895.4 1330.1,898.8 1330.5,902.9 1331.0,894.3 1331.5,899.4 1332.0,897.1 1332.4,865.6 1332.9,910.8 1333.4,898.2 1333.8,918.4 1334.3,922.5 1334.8,900.5 1335.2,924.5 1335.7,910.8 1336.2,909.5 1336.6,878.0 1337.1,915.2 1337.6,901.1 1338.0,907.1 1338.5,897.1 1339.0,899.9 1339.5,904.7 1339.9,890.4 1340.4,887.7 1340.9,890.4 1341.3,894.3 1341.8,862.4 1342.3,896.5 1342.7,895.4 1343.2,875.0 1343.7,880.0 1344.1,917.8 1344.6,889.3 1345.1,917.1 1345.5,893.7 1346.0,893.2 1346.5,894.3 1347.0,905.9 1347.4,860.2 1347.9,884.1 1348.4,898.8 1348.8,886.7 1349.3,907.1 1349.8,867.0 1350.2,888.3 1350.7,884.1 1351.2,921.8 1351.6,889.3 1352.1,917.1 1352.6,887.7 1353.0,893.7 1353.5,895.4 1354.0,881.5 1354.5,921.1 1354.9,896.5 1355.4,891.5 1355.9,909.5 1356.3,908.9 1356.8,879.0 1357.3,896.0 1357.7,880.5 1358.2,903.5 1358.7,909.5 1359.1,853.3 1359.6,911.4 1360.1,915.8 1360.5,891.5 1361.0,919.1 1361.5,905.9 1362.0,908.9 1362.4,887.7 1362.9,912.6 1363.4,899.9 1363.8,912.0 1364.3,909.5 1364.8,892.6 1365.2,884.1 1365.7,887.7 1366.2,883.0 1366.6,894.3 1367.1,908.3 1367.6,905.3 1368.0,873.6 1368.5,884.1 1369.0,912.6 1369.5,888.8 1369.9,925.2 1370.4,899.4 1370.9,914.6 1371.3,910.8 1371.8,913.3 1372.3,908.9 1372.7,912.6 1373.2,897.7 1373.7,917.1 1374.1,896.5 1374.6,893.2 1375.1,921.8 1375.5,891.5 1376.0,895.4 1376.5,891.5 1377.0,914.6 1377.4,873.1 1377.9,898.2 1378.4,918.4 1378.8,897.1 1379.3,893.2 1379.8,891.0 1380.2,910.1 1380.7,893.2 1381.2,910.1 1381.6,876.5 1382.1,904.1 1382.6,892.1 1383.0,898.2 1383.5,906.5 1384.0,888.8 1384.5,919.8 1384.9,871.2 1385.4,901.7 1385.9,901.1 1386.3,901.1 1386.8,901.1 1387.3,887.2 1387.7,891.5 1388.2,912.0 1388.7,893.2 1389.1,901.1 1389.6,899.4 1390.1,872.6 1390.6,885.6 1391.0,897.1 1391.5,894.3 1392.0,902.3 1392.4,910.8 1392.9,889.3 1393.4,903.5 1393.8,884.6 1394.3,902.9 1394.8,905.9 1395.2,902.9 1395.7,921.1 1396.2,915.8 1396.6,904.7 1397.1,902.3 1397.6,910.8 1398.1,884.1 1398.5,914.6 1399.0,923.8 1399.5,924.5 1399.9,928.0 1400.4,914.6 1400.9,922.5 1401.3,938.9 1401.8,913.3 1402.3,893.2 1402.7,943.5 1403.2,908.9 1403.7,914.6 1404.1,913.3 1404.6,887.2 1405.1,933.0 1405.6,896.5 1406.0,891.0 1406.5,885.1 1407.0,916.5 1407.4,902.9 1407.9,907.1 1408.4,907.1 1408.8,901.7 1409.3,919.1 1409.8,904.1 1410.2,907.7 1410.7,896.5 1411.2,889.9 1411.6,904.1 1412.1,889.3 1412.6,912.0 1413.1,902.9 1413.5,907.1 1414.0,915.8 1414.5,900.5 1414.9,872.6 1415.4,894.8 1415.9,920.4 1416.3,883.5 1416.8,888.3 1417.3,917.1 1417.7,921.1 1418.2,893.2 1418.7,899.9 1419.1,907.1 1419.6,890.4 1420.1,913.3 1420.6,898.2 1421.0,909.5 1421.5,900.5 1422.0,893.2 1422.4,921.1 1422.9,904.7 1423.4,901.1 1423.8,893.7 1424.3,914.6 1424.8,911.4 1425.2,910.8 1425.7,911.4 1426.2,916.5 1426.6,908.9 1427.1,912.6 1427.6,910.1 1428.1,886.7 1428.5,880.5 1429.0,912.0 1429.5,913.3 1429.9,906.5 1430.4,911.4 1430.9,923.1 1431.3,896.0 1431.8,906.5 1432.3,891.5 1432.7,896.0 1433.2,919.1 1433.7,910.8 1434.1,894.8 1434.6,928.7 1435.1,878.0 1435.6,902.3 1436.0,908.9 1436.5,926.6 1437.0,921.8 1437.4,918.4 1437.9,916.5 1438.4,901.7 1438.8,897.7 1439.3,915.2 1439.8,912.0 1440.2,898.8 1440.7,918.4 1441.2,901.7 1441.6,907.1 1442.1,920.4 1442.6,929.4 1443.1,910.8 1443.5,905.9 1444.0,920.4 1444.5,931.5 1444.9,926.6 1445.4,905.3 1445.9,910.8 1446.3,894.8 1446.8,907.1 1447.3,913.9 1447.7,917.8 1448.2,905.3 1448.7,932.2 1449.1,893.2 1449.6,897.1 1450.1,913.3 1450.6,919.8 1451.0,888.3 1451.5,937.4 1452.0,935.9 1452.4,932.2 1452.9,920.4 1453.4,890.4 1453.8,924.5 1454.3,913.3 1454.8,911.4 1455.2,922.5 1455.7,907.7 1456.2,934.4 1456.6,902.3 1457.1,923.1 1457.6,917.1 1458.1,943.5 1458.5,904.1 1459.0,912.0 1459.5,923.1 1459.9,958.3 1460.4,884.1 1460.9,899.9 1461.3,893.7 1461.8,889.9 1462.3,928.7 1462.7,891.0 1463.2,942.0 1463.7,916.5 1464.1,917.1 1464.6,894.8 1465.1,921.1 1465.6,914.6 1466.0,888.8 1466.5,935.2 1467.0,916.5 1467.4,900.5 1467.9,916.5 1468.4,908.3 1468.8,941.2 1469.3,899.4 1469.8,911.4 1470.2,915.8 1470.7,934.4 1471.2,938.2 1471.6,908.9 1472.1,914.6 1472.6,900.5 1473.1,897.1 1473.5,933.0 1474.0,893.2 1474.5,897.1 1474.9,918.4 1475.4,879.0 1475.9,940.4 1476.3,902.3 1476.8,917.1 1477.3,917.8 1477.7,931.5 1478.2,929.4 1478.7,907.7 1479.1,942.7 1479.6,910.8 1480.1,907.1 1480.6,927.3 1481.0,927.3 1481.5,912.0 1482.0,936.7 1482.4,930.8 1482.9,893.2 1483.4,905.9 1483.8,903.5 1484.3,937.4 1484.8,907.7 1485.2,949.1 1485.7,948.3 1486.2,905.3 1486.7,940.4 1487.1,896.5 1487.6,908.3 1488.1,893.2 1488.5,930.1 1489.0,917.1 1489.5,925.9 1489.9,942.0 1490.4,937.4 1490.9,923.1 1491.3,901.1 1491.8,923.1 1492.3,924.5 1492.7,933.0 1493.2,932.2 1493.7,930.8 1494.2,929.4 1494.6,933.0 1495.1,902.9 1495.6,919.1 1496.0,928.0 1496.5,916.5 1497.0,910.1 1497.4,923.1 1497.9,949.9 1498.4,925.9 1498.8,945.9 1499.3,947.5 1499.8,934.4 1500.2,939.7 1500.7,932.2 1501.2,917.8 1501.7,910.1 1502.1,915.2 1502.6,909.5 1503.1,919.1 1503.5,924.5 1504.0,923.1 1504.5,945.1 1504.9,912.6 1505.4,921.1 1505.9,976.8 1506.3,905.9 1506.8,938.9 1507.3,944.3 1507.7,943.5 1508.2,921.8 1508.7,904.1 1509.2,915.2 1509.6,917.8 1510.1,902.3 1510.6,921.8 1511.0,930.1 1511.5,948.3 1512.0,919.1 1512.4,921.1 1512.9,925.2 1513.4,914.6 1513.8,918.4 1514.3,917.1 1514.8,942.7 1515.2,948.3 1515.7,923.8 1516.2,928.7 1516.7,919.1 1517.1,920.4 1517.6,931.5 1518.1,944.3 1518.5,900.5 1519.0,908.3 1519.5,959.2 1519.9,961.0 1520.4,897.1 1520.9,949.9 1521.3,923.1 1521.8,897.7 1522.3,946.7 1522.7,921.8 1523.2,938.9 1523.7,945.1 1524.2,952.4 1524.6,965.4 1525.1,953.2 1525.6,912.6 1526.0,911.4 1526.5,935.9 1527.0,925.2 1527.4,924.5 1527.9,925.9 1528.4,925.2 1528.8,930.1 1529.3,950.7 1529.8,909.5 1530.2,954.9 1530.7,945.1 1531.2,966.4 1531.7,917.1 1532.1,926.6 1532.6,943.5 1533.1,924.5 1533.5,922.5 1534.0,928.0 1534.5,932.2 1534.9,940.4 1535.4,930.1 1535.9,948.3 1536.3,944.3 1536.8,949.9 1537.3,911.4 1537.7,913.9 1538.2,945.1 1538.7,931.5 1539.2,930.8 1539.6,910.8 1540.1,945.1 1540.6,965.4 1541.0,926.6 1541.5,908.3 1542.0,898.2 1542.4,912.6 1542.9,923.8 1543.4,962.7 1543.8,935.9 1544.3,890.4 1544.8,956.6 1545.2,916.5 1545.7,939.7 1546.2,930.1 1546.7,935.2 1547.1,917.1 1547.6,899.9 1548.1,921.1 1548.5,949.1 1549.0,948.3 1549.5,940.4 1549.9,903.5 1550.4,901.7 1550.9,941.2 1551.3,928.7 1551.8,942.0 1552.3,937.4 1552.7,926.6 1553.2,959.2 1553.7,946.7 1554.2,912.0 1554.6,935.2 1555.1,935.2 1555.6,921.1 1556.0,935.2 1556.5,899.4 1557.0,982.8 1557.4,946.7 1557.9,916.5 1558.4,954.1 1558.8,956.6 1559.3,940.4 1559.8,935.2 1560.2,935.9 1560.7,929.4 1561.2,925.2 1561.7,921.1 1562.1,972.9 1562.6,938.2 1563.1,974.8 1563.5,974.8 1564.0,942.0 1564.5,941.2 1564.9,917.1 1565.4,923.1 1565.9,916.5 1566.3,935.9 1566.8,948.3 1567.3,929.4 1567.7,903.5 1568.2,938.9 1568.7,955.8 1569.2,912.6 1569.6,938.2 1570.1,923.8 1570.6,943.5 1571.0,926.6 1571.5,927.3 1572.0,936.7 1572.4,941.2 1572.9,905.9 1573.4,910.8 1573.8,945.1 1574.3,941.2 1574.8,915.8 1575.2,954.9 1575.7,960.1 1576.2,920.4 1576.7,939.7 1577.1,936.7 1577.6,938.9 1578.1,917.8 1578.5,937.4 1579.0,904.1 1579.5,929.4 1579.9,926.6 1580.4,912.6 1580.9,931.5 1581.3,925.9 1581.8,959.2 1582.3,932.2 1582.7,928.7 1583.2,918.4 1583.7,959.2 1584.2,936.7 1584.6,932.2 1585.1,930.1 1585.6,951.6 1586.0,923.1 1586.5,910.8 1587.0,885.6 1587.4,945.9 1587.9,961.8 1588.4,957.5 1588.8,941.2 1589.3,926.6 1589.8,904.1 1590.3,935.2 1590.7,933.0 1591.2,937.4 1591.7,929.4 1592.1,885.6 1592.6,907.7 1593.1,926.6 1593.5,967.3 1594.0,928.0 1594.5,944.3 1594.9,918.4 1595.4,921.8 1595.9,915.8 1596.3,912.0 1596.8,929.4 1597.3,924.5 1597.8,943.5 1598.2,928.7 1598.7,945.1 1599.2,910.8 1599.6,951.6 1600.1,938.9 1600.6,906.5 1601.0,954.1 1601.5,951.6 1602.0,946.7 1602.4,937.4 1602.9,928.7 1603.4,928.0 1603.8,956.6 1604.3,942.0 1604.8,929.4 1605.3,948.3 1605.7,950.7 1606.2,925.9 1606.7,933.7 1607.1,915.8 1607.6,923.1 1608.1,935.9 1608.5,935.2 1609.0,933.7 1609.5,931.5 1609.9,936.7 1610.4,925.9 1610.9,922.5 1611.3,934.4 1611.8,915.2 1612.3,942.7 1612.8,933.7 1613.2,930.8 1613.7,938.9 1614.2,915.2 1614.6,930.8 1615.1,941.2 1615.6,940.4 1616.0,966.4 1616.5,938.9 1617.0,942.0 1617.4,959.2 1617.9,954.1 1618.4,966.4 1618.8,936.7 1619.3,945.9 1619.8,928.0 1620.3,915.8 1620.7,941.2 1621.2,908.9 1621.7,924.5 1622.1,961.0 1622.6,974.8 1623.1,927.3 1623.5,954.9 1624.0,937.4 1624.5,929.4 1624.9,939.7 1625.4,954.1 1625.9,937.4 1626.3,930.1 1626.8,923.8 1627.3,942.0 1627.8,926.6 1628.2,954.1 1628.7,955.8 1629.2,944.3 1629.6,919.1 1630.1,968.2 1630.6,928.7 1631.0,966.4 1631.5,950.7 1632.0,974.8 1632.4,907.7 1632.9,925.2 1633.4,937.4 1633.8,933.7 1634.3,968.2 1634.8,967.3 1635.3,932.2 1635.7,925.9 1636.2,958.3 1636.7,918.4 1637.1,942.7 1637.6,958.3 1638.1,963.6 1638.5,925.2 1639.0,930.1 1639.5,943.5 1639.9,914.6 1640.4,912.0 1640.9,951.6 1641.3,950.7 1641.8,984.9 1642.3,941.2 1642.8,925.2 1643.2,973.9 1643.7,964.5 1644.2,930.1 1644.6,944.3 1645.1,962.7 1645.6,959.2 1646.0,935.2 1646.5,949.1 1647.0,927.3 1647.4,933.7 1647.9,933.7 1648.4,962.7 1648.8,954.9 1649.3,950.7 1649.8,929.4 1650.3,930.1 1650.7,944.3 1651.2,954.1 1651.7,938.2 1652.1,949.1 1652.6,964.5 1653.1,931.5 1653.5,963.6 1654.0,933.7 1654.5,955.8 1654.9,961.0 1655.4,951.6 1655.9,922.5 1656.3,968.2 1656.8,925.9 1657.3,993.5 1657.8,949.1 1658.2,949.9 1658.7,954.1 1659.2,946.7 1659.6,938.2 1660.1,930.8 1660.6,957.5 1661.0,956.6 1661.5,921.1 1662.0,942.0 1662.4,967.3 1662.9,927.3 1663.4,937.4 1663.8,912.6 1664.3,935.2 1664.8,953.2 1665.3,938.2 1665.7,954.1 1666.2,950.7 1666.7,948.3 1667.1,937.4 1667.6,959.2 1668.1,935.2 1668.5,923.1 1669.0,988.1 1669.5,979.8 1669.9,953.2 1670.4,921.8 1670.9,949.9 1671.3,938.9 1671.8,954.1 1672.3,954.9 1672.8,961.8 1673.2,941.2 1673.7,949.1 1674.2,930.1 1674.6,915.8 1675.1,950.7 1675.6,934.4 1676.0,944.3 1676.5,922.5 1677.0,942.7 1677.4,925.9 1677.9,933.7 1678.4,998.0 1678.8,927.3 1679.3,958.3 1679.8,945.9 1680.3,938.9 1680.7,937.4 1681.2,956.6 1681.7,933.0 1682.1,967.3 1682.6,974.8 1683.1,930.8 1683.5,942.7 1684.0,942.0 1684.5,957.5 1684.9,924.5 1685.4,967.3 1685.9,970.1 1686.4,938.9 1686.8,932.2 1687.3,943.5 1687.8,939.7 1688.2,921.1 1688.7,962.7 1689.2,954.1 1689.6,965.4 1690.1,959.2 1690.6,955.8 1691.0,950.7 1691.5,964.5 1692.0,969.1 1692.4,919.8 1692.9,925.9 1693.4,925.2 1693.9,925.9 1694.3,942.7 1694.8,942.7 1695.3,956.6 1695.7,958.3 1696.2,933.7 1696.7,984.9 1697.1,955.8 1697.6,944.3 1698.1,911.4 1698.5,961.8 1699.0,951.6 1699.5,968.2 1699.9,940.4 1700.4,965.4 1700.9,1006.2 1701.4,1028.3 1701.8,928.7 1702.3,984.9 1702.8,957.5 1703.2,954.1 1703.7,971.0 1704.2,947.5 1704.6,967.3 1705.1,938.9 1705.6,913.9 1706.0,970.1 1706.5,938.9 1707.0,944.3 1707.4,999.1 1707.9,957.5 1708.4,973.9 1708.9,955.8 1709.3,970.1 1709.8,959.2 1710.3,968.2 1710.7,980.8 1711.2,949.9 1711.7,950.7 1712.1,945.1 1712.6,918.4 1713.1,961.8 1713.5,958.3 1714.0,935.2 1714.5,969.1 1714.9,946.7 1715.4,972.0 1715.9,952.4 1716.4,932.2 1716.8,954.9 1717.3,942.0 1717.8,973.9 1718.2,995.7 1718.7,954.9 1719.2,915.2 1719.6,954.1 1720.1,974.8 1720.6,917.1 1721.0,984.9 1721.5,942.0 1722.0,933.0 1722.4,935.9 1722.9,962.7 1723.4,954.9 1723.9,961.0 1724.3,951.6 1724.8,909.5 1725.3,948.3 1725.7,984.9 1726.2,967.3 1726.7,937.4 1727.1,936.7 1727.6,976.8 1728.1,967.3 1728.5,958.3 1729.0,945.1 1729.5,950.7 1729.9,972.0 1730.4,945.1 1730.9,941.2 1731.4,924.5 1731.8,960.1 1732.3,957.5 1732.8,961.0 1733.2,962.7 1733.7,963.6 1734.2,948.3 1734.6,977.8 1735.1,942.0 1735.6,956.6 1736.0,1007.4 1736.5,967.3 1737.0,979.8 1737.4,942.0 1737.9,945.9 1738.4,975.8 1738.9,936.7 1739.3,930.8 1739.8,940.4 1740.3,968.2 1740.7,966.4 1741.2,970.1 1741.7,939.7 1742.1,937.4 1742.6,946.7 1743.1,947.5 1743.5,974.8 1744.0,925.9 1744.5,978.8 1744.9,946.7 1745.4,985.9 1745.9,955.8 1746.4,962.7 1746.8,942.7 1747.3,934.4 1747.8,942.0 1748.2,950.7 1748.7,938.2 1749.2,983.9 1749.6,954.1 1750.1,954.9 1750.6,965.4 1751.0,995.7 1751.5,973.9 1752.0,969.1 1752.4,966.4 1752.9,991.3 1753.4,946.7 1753.9,953.2 1754.3,947.5 1754.8,964.5 1755.3,979.8 1755.7,954.9 1756.2,985.9 1756.7,981.8 1757.1,978.8 1757.6,953.2 1758.1,975.8 1758.5,931.5 1759.0,954.1 1759.5,958.3 1759.9,942.7 1760.4,954.9 1760.9,970.1 1761.4,942.0 1761.8,991.3 1762.3,1002.6 1762.8,943.5 1763.2,924.5 1763.7,989.1 1764.2,944.3 1764.6,920.4 1765.1,949.1 1765.6,921.1 1766.0,982.8 1766.5,968.2 1767.0,945.9 1767.4,979.8 1767.9,931.5 1768.4,963.6 1768.9,959.2 1769.3,976.8 1769.8,937.4 1770.3,963.6 1770.7,952.4 1771.2,942.7 1771.7,976.8 1772.1,950.7 1772.6,920.4 1773.1,972.9 1773.5,965.4 1774.0,1002.6 1774.5,944.3 1774.9,930.8 1775.4,961.0 1775.9,956.6 1776.4,904.1 1776.8,953.2 1777.3,965.4 1777.8,947.5 1778.2,967.3 1778.7,937.4 1779.2,968.2 1779.6,945.1 1780.1,972.0 1780.6,962.7 1781.0,972.9 1781.5,928.7 1782.0,988.1 1782.5,942.0 1782.9,961.0 1783.4,954.9 1783.9,989.1 1784.3,970.1 1784.8,955.8 1785.3,977.8 1785.7,987.0 1786.2,949.1 1786.7,958.3 1787.1,973.9 1787.6,958.3 1788.1,978.8 1788.5,940.4 1789.0,964.5 1789.5,969.1 1790.0,1000.3 1790.4,961.8 1790.9,949.9 1791.4,965.4 1791.8,950.7 1792.3,949.9 1792.8,961.8 1793.2,970.1 1793.7,979.8 1794.2,959.2 1794.6,940.4 1795.1,987.0 1795.6,956.6 1796.0,989.1 1796.5,958.3 1797.0,1000.3 1797.5,991.3 1797.9,980.8 1798.4,987.0 1798.9,949.9 1799.3,985.9 1799.8,973.9 1800.3,960.1 1800.7,976.8 1801.2,950.7 1801.7,989.1 1802.1,972.9 1802.6,955.8 1803.1,989.1 1803.5,984.9 1804.0,954.1 1804.5,977.8 1805.0,933.0 1805.4,973.9 1805.9,1005.0 1806.4,969.1 1806.8,961.8 1807.3,953.2 1807.8,965.4 1808.2,935.9 1808.7,974.8 1809.2,1007.4 1809.6,978.8 1810.1,954.9 1810.6,921.8 1811.0,954.9 1811.5,982.8 1812.0,946.7 1812.5,979.8 1812.9,990.2 1813.4,951.6 1813.9,983.9 1814.3,976.8 1814.8,961.0 1815.3,959.2 1815.7,980.8 1816.2,984.9 1816.7,934.4 1817.1,951.6 1817.6,969.1 1818.1,1017.5 1818.5,949.1 1819.0,972.9 1819.5,1000.3 1820.0,989.1 1820.4,972.9 1820.9,979.8 1821.4,965.4 1821.8,972.0 1822.3,964.5 1822.8,939.7 1823.2,959.2 1823.7,972.0 1824.2,963.6 1824.6,977.8 1825.1,954.1 1825.6,952.4 1826.0,976.8 1826.5,970.1 1827.0,953.2 1827.5,966.4 1827.9,954.1 1828.4,946.7 1828.9,970.1 1829.3,1001.4 1829.8,972.0 1830.3,954.1 1830.7,966.4 1831.2,981.8 1831.7,966.4 1832.1,1005.0 1832.6,956.6 1833.1,976.8 1833.5,968.2 1834.0,951.6 1834.5,977.8 1835.0,948.3 1835.4,945.9 1835.9,988.1 1836.4,972.9 1836.8,974.8 1837.3,961.0 1837.8,976.8 1838.2,965.4 1838.7,973.9 1839.2,969.1 1839.6,964.5 1840.1,982.8 1840.6,951.6 1841.0,938.2 1841.5,989.1 1842.0,966.4 1842.5,978.8 1842.9,914.6 1843.4,966.4 1843.9,942.7 1844.3,992.4 1844.8,983.9 1845.3,961.8 1845.7,977.8 1846.2,984.9 1846.7,990.2 1847.1,998.0 1847.6,959.2 1848.1,954.9 1848.5,959.2 1849.0,972.0 1849.5,961.0 1850.0,980.8 1850.4,984.9 1850.9,942.7 1851.4,934.4 1851.8,1002.6 1852.3,983.9 1852.8,977.8 1853.2,991.3 1853.7,956.6 1854.2,963.6 1854.6,975.8 1855.1,998.0 1855.6,990.2 1856.0,972.9 1856.5,961.0 1857.0,945.1 1857.5,954.9 1857.9,1013.6 1858.4,976.8 1858.9,941.2 1859.3,967.3 1859.8,971.0 1860.3,981.8 1860.7,999.1 1861.2,949.1 1861.7,935.9 1862.1,994.6 1862.6,919.8 1863.1,998.0 1863.5,985.9 1864.0,989.1 1864.5,978.8 1865.0,976.8 1865.4,974.8 1865.9,971.0 1866.4,979.8 1866.8,954.9 1867.3,995.7 1867.8,961.0 1868.2,952.4 1868.7,974.8 1869.2,1001.4 1869.6,970.1 1870.1,949.9 1870.6,968.2 1871.0,1001.4 1871.5,938.9 1872.0,974.8 1872.5,944.3 1872.9,994.6 1873.4,945.1 1873.9,962.7 1874.3,945.9 1874.8,972.0 1875.3,961.0 1875.7,979.8 1876.2,1001.4 1876.7,1000.3 1877.1,979.8 1877.6,956.6 1878.1,993.5 1878.6,982.8 1879.0,935.9 1879.5,1011.1 1880.0,984.9 1880.4,977.8 1880.9,989.1 1881.4,980.8 1881.8,971.0 1882.3,956.6 1882.8,939.7 1883.2,1017.5 1883.7,967.3 1884.2,983.9 1884.6,979.8 1885.1,935.2 1885.6,982.8 1886.1,999.1 1886.5,968.2 1887.0,979.8 1887.5,955.8 1887.9,976.8 1888.4,953.2 1888.9,959.2 1889.3,998.0 1889.8,989.1 1890.3,983.9 1890.7,998.0 1891.2,964.5 1891.7,977.8 1892.1,983.9 1892.6,972.0 1893.1,961.8 1893.6,983.9 1894.0,976.8 1894.5,969.1 1895.0,996.8 1895.4,962.7 1895.9,936.7 1896.4,977.8 1896.8,972.0 1897.3,965.4 1897.8,974.8 1898.2,964.5 1898.7,956.6 1899.2,1000.3 1899.6,1014.9 1900.1,988.1 1900.6,1000.3 1901.1,979.8 1901.5,949.1 1902.0,960.1 1902.5,980.8 1902.9,961.8 1903.4,991.3 1903.9,1016.2 1904.3,974.8 1904.8,963.6 1905.3,982.8 1905.7,934.4 1906.2,993.5 1906.7,960.1 1907.1,969.1 1907.6,972.0 1908.1,961.0 1908.6,923.1 1909.0,974.8 1909.5,985.9 1910.0,994.6 1910.4,953.2 1910.9,972.9 1911.4,980.8 1911.8,981.8 1912.3,966.4 1912.8,945.1 1913.2,967.3 1913.7,947.5 1914.2,970.1 1914.6,973.9 1915.1,954.9 1915.6,990.2 1916.1,959.2 1916.5,984.9 1917.0,961.8 1917.5,1007.4 1917.9,989.1 1918.4,937.4 1918.9,955.8 1919.3,980.8 1919.8,975.8 1920.3,980.8 1920.7,969.1 1921.2,988.1 1921.7,958.3 1922.1,990.2 1922.6,1009.8 1923.1,973.9 1923.6,996.8 1924.0,976.8 1924.5,972.9 1925.0,965.4 1925.4,977.8 1925.9,972.0 1926.4,961.8 1926.8,967.3 1927.3,929.4 1927.8,990.2 1928.2,972.9 1928.7,925.9 1929.2,978.8 1929.6,977.8 1930.1,987.0 1930.6,961.8 1931.1,982.8 1931.5,988.1 1932.0,960.1 1932.5,1017.5 1932.9,992.4 1933.4,972.9 1933.9,958.3 1934.3,974.8 1934.8,1013.6 1935.3,972.9 1935.7,971.0 1936.2,992.4 1936.7,970.1 1937.1,978.8 1937.6,923.8 1938.1,963.6 1938.6,961.8 1939.0,996.8 1939.5,984.9 1940.0,965.4 1940.4,980.8 1940.9,984.9 1941.4,973.9 1941.8,962.7 1942.3,998.0 1942.8,1013.6 1943.2,971.0 1943.7,983.9 1944.2,976.8 1944.6,995.7 1945.1,991.3 1945.6,976.8 1946.1,977.8 1946.5,984.9 1947.0,962.7 1947.5,989.1 1947.9,979.8 1948.4,969.1 1948.9,1000.3 1949.3,984.9 1949.8,949.9 1950.3,950.7 1950.7,954.9 1951.2,971.0 1951.7,1003.8 1952.1,1003.8 1952.6,990.2 1953.1,976.8 1953.6,961.0 1954.0,978.8 1954.5,978.8 1955.0,973.9 1955.4,976.8 1955.9,971.0 1956.4,973.9 1956.8,1014.9 1957.3,979.8 1957.8,1031.1 1958.2,989.1 1958.7,1001.4 1959.2,973.9 1959.6,954.9 1960.1,984.9 1960.6,972.9 1961.1,972.9 1961.5,981.8 1962.0,1000.3 1962.5,993.5 1962.9,964.5 1963.4,982.8 1963.9,979.8 1964.3,957.5 1964.8,976.8 1965.3,965.4 1965.7,969.1 1966.2,994.6 1966.7,962.7 1967.1,977.8 1967.6,985.9 1968.1,978.8 1968.6,984.9 1969.0,1009.8 1969.5,977.8 1970.0,990.2 1970.4,996.8 1970.9,1005.0 1971.4,981.8 1971.8,980.8 1972.3,968.2 1972.8,973.9 1973.2,987.0 1973.7,979.8 1974.2,972.0 1974.6,976.8 1975.1,974.8 1975.6,988.1 1976.1,972.9 1976.5,983.9 1977.0,988.1 1977.5,966.4 1977.9,961.0 1978.4,962.7 1978.9,949.9 1979.3,1006.2 1979.8,999.1 1980.3,989.1 1980.7,983.9 1981.2,991.3 1981.7,1041.5 1982.2,954.1 1982.6,972.0 1983.1,948.3 1983.6,976.8 1984.0,991.3 1984.5,956.6 1985.0,980.8 1985.4,975.8 1985.9,984.9 1986.4,966.4 1986.8,969.1 1987.3,980.8 1987.8,975.8 1988.2,984.9 1988.7,989.1 1989.2,988.1 1989.7,1002.6 1990.1,1017.5 1990.6,959.2 1991.1,1008.6 1991.5,977.8 1992.0,990.2 1992.5,964.5 1992.9,968.2 1993.4,983.9 1993.9,1025.5 1994.3,970.1 1994.8,969.1 1995.3,970.1 1995.7,971.0 1996.2,971.0 1996.7,968.2 1997.2,975.8 1997.6,970.1 1998.1,999.1 1998.6,941.2 1999.0,963.6 1999.5,978.8 2000.0,977.8 2000.4,980.8 2000.9,990.2 2001.4,999.1 2001.8,959.2 2002.3,1002.6 2002.8,992.4 2003.2,992.4 2003.7,958.3 2004.2,996.8 2004.7,961.8 2005.1,955.8 2005.6,998.0 2006.1,1013.6 2006.5,989.1 2007.0,995.7 2007.5,963.6 2007.9,990.2 2008.4,974.8 2008.9,983.9 2009.3,988.1 2009.8,971.0 2010.3,1001.4 2010.7,1000.3 2011.2,990.2 2011.7,978.8 2012.2,969.1 2012.6,978.8 2013.1,966.4 2013.6,1013.6 2014.0,999.1 2014.5,976.8 2015.0,987.0 2015.4,987.0 2015.9,990.2 2016.4,996.8 2016.8,969.1 2017.3,963.6 2017.8,994.6 2018.2,1006.2 2018.7,988.1 2019.2,966.4 2019.7,975.8 2020.1,1005.0 2020.6,1028.3 2021.1,956.6 2021.5,977.8 2022.0,985.9 2022.5,980.8 2022.9,996.8 2023.4,961.0 2023.9,991.3 2024.3,978.8 2024.8,1022.8 2025.3,978.8 2025.7,971.0 2026.2,992.4 2026.7,1018.8 2027.2,1008.6 2027.6,982.8 2028.1,980.8 2028.6,981.8 2029.0,991.3 2029.5,993.5 2030.0,1003.8 2030.4,969.1 2030.9,994.6 2031.4,980.8 2031.8,992.4 2032.3,964.5 2032.8,1005.0 2033.2,1020.1 2033.7,966.4 2034.2,952.4 2034.7,1001.4 2035.1,1025.5 2035.6,975.8 2036.1,1008.6 2036.5,982.8 2037.0,1001.4 2037.5,1002.6 2037.9,1051.1 2038.4,1017.5 2038.9,999.1 2039.3,1011.1 2039.8,999.1 2040.3,982.8 2040.7,983.9 2041.2,987.0 2041.7,973.9 2042.2,1002.6 2042.6,974.8 2043.1,988.1 2043.6,983.9 2044.0,993.5 2044.5,979.8 2045.0,981.8 2045.4,992.4 2045.9,1032.6 2046.4,978.8 2046.8,960.1 2047.3,982.8 2047.8,980.8 2048.2,985.9 2048.7,979.8 2049.2,998.0 2049.7,998.0 2050.1,972.0 2050.6,979.8 2051.1,1002.6 2051.5,998.0 2052.0,1014.9 2052.5,985.9 2052.9,1031.1 2053.4,982.8 2053.9,994.6 2054.3,960.1 2054.8,984.9 2055.3,983.9 2055.7,970.1 2056.2,1013.6 2056.7,996.8 2057.2,964.5 2057.6,1012.3 2058.1,988.1 2058.6,993.5 2059.0,982.8 2059.5,1026.9 2060.0,998.0 2060.4,998.0 2060.9,994.6 2061.4,999.1 2061.8,998.0 2062.3,979.8 2062.8,961.0 2063.2,994.6 2063.7,972.0 2064.2,1003.8 2064.7,1018.8 2065.1,1006.2 2065.6,970.1 2066.1,1003.8 2066.5,994.6 2067.0,996.8 2067.5,1013.6 2067.9,1007.4 2068.4,1009.8 2068.9,989.1 2069.3,976.8 2069.8,993.5 2070.3,987.0 2070.7,982.8 2071.2,961.0 2071.7,1021.4 2072.2,1022.8 2072.6,1008.6 2073.1,998.0 2073.6,1005.0 2074.0,1022.8 2074.5,1009.8 2075.0,1011.1 2075.4,1013.6 2075.9,1005.0 2076.4,1012.3 2076.8,996.8 2077.3,974.8 2077.8,980.8 2078.3,995.7 2078.7,988.1 2079.2,992.4 2079.7,1003.8 2080.1,987.0 2080.6,990.2 2081.1,1018.8 2081.5,967.3 2082.0,990.2 2082.5,987.0 2082.9,1003.8 2083.4,998.0 2083.9,1000.3 2084.3,1001.4 2084.8,1009.8 2085.3,996.8 2085.8,1021.4 2086.2,962.7 2086.7,989.1 2087.2,981.8 2087.6,982.8 2088.1,981.8 2088.6,979.8 2089.0,985.9 2089.5,1005.0 2090.0,1014.9 2090.4,978.8 2090.9,998.0 2091.4,1017.5 2091.8,991.3 2092.3,992.4 2092.8,1011.1 2093.3,1005.0 2093.7,1007.4 2094.2,1002.6 2094.7,955.8 2095.1,995.7 2095.6,989.1 2096.1,972.9 2096.5,988.1 2097.0,981.8 2097.5,979.8 2097.9,1013.6 2098.4,995.7 2098.9,1034.0 2099.3,982.8 2099.8,1000.3 2100.3,1000.3 2100.8,974.8 2101.2,1006.2 2101.7,1009.8 2102.2,990.2 2102.6,993.5 2103.1,1017.5 2103.6,996.8 2104.0,984.9 2104.5,1006.2 2105.0,995.7 2105.4,1001.4 2105.9,985.9 2106.4,978.8 2106.8,991.3 2107.3,988.1 2107.8,1000.3 2108.3,981.8 2108.7,984.9 2109.2,1024.1 2109.7,1001.4 2110.1,1026.9 2110.6,998.0 2111.1,1000.3 2111.5,973.9 2112.0,998.0 2112.5,1031.1 2112.9,1038.5 2113.4,1034.0 2113.9,1007.4 2114.3,989.1 2114.8,998.0 2115.3,995.7 2115.8,989.1 2116.2,975.8 2116.7,982.8 2117.2,1006.2 2117.6,1002.6 2118.1,1020.1 2118.6,1006.2 2119.0,1029.7 2119.5,965.4 2120.0,993.5 2120.4,991.3 2120.9,984.9 2121.4,1003.8 2121.8,1043.1 2122.3,1003.8 2122.8,1029.7 2123.3,1012.3 2123.7,989.1 2124.2,958.3 2124.7,1018.8 2125.1,1034.0 2125.6,999.1 2126.1,999.1 2126.5,993.5 2127.0,1002.6 2127.5,1008.6 2127.9,1012.3 2128.4,1014.9 2128.9,1007.4 2129.3,1000.3 2129.8,988.1 2130.3,982.8 2130.8,988.1 2131.2,992.4 2131.7,976.8 2132.2,1037.0 2132.6,978.8 2133.1,993.5 2133.6,1011.1 2134.0,1029.7 2134.5,1021.4 2135.0,995.7 2135.4,971.0 2135.9,1011.1 2136.4,968.2 2136.8,1031.1 2137.3,983.9 2137.8,990.2 2138.3,1006.2 2138.7,988.1 2139.2,995.7 2139.7,987.0 2140.1,1024.1 2140.6,1013.6 2141.1,1013.6 2141.5,1051.1 2142.0,1006.2 2142.5,998.0 2142.9,992.4 2143.4,1007.4 2143.9,977.8 2144.3,999.1 2144.8,999.1 2145.3,958.3 2145.8,989.1 2146.2,1041.5 2146.7,1016.2 2147.2,985.9 2147.6,999.1 2148.1,1011.1 2148.6,1013.6 2149.0,991.3 2149.5,994.6 2150.0,980.8 2150.4,1024.1 2150.9,999.1 2151.4,1007.4 2151.8,1006.2 2152.3,1003.8 2152.8,999.1 2153.3,1011.1 2153.7,1014.9 2154.2,1006.2 2154.7,995.7 2155.1,1025.5 2155.6,1014.9 2156.1,1007.4 2156.5,1020.1 2157.0,1021.4 2157.5,1021.4 2157.9,994.6 2158.4,1014.9 2158.9,994.6 2159.3,1005.0 2159.8,1013.6 2160.3,1012.3 2160.8,995.7 2161.2,992.4 2161.7,994.6 2162.2,1006.2 2162.6,999.1 2163.1,1025.5 2163.6,1013.6 2164.0,1017.5 2164.5,993.5 2165.0,1009.8 2165.4,1003.8 2165.9,1025.5 2166.4,1005.0 2166.8,993.5 2167.3,1028.3 2167.8,1012.3 2168.3,1002.6 2168.7,1005.0 2169.2,1013.6 2169.7,978.8 2170.1,1032.6 2170.6,1012.3 2171.1,1005.0 2171.5,982.8 2172.0,1017.5 2172.5,1018.8 2172.9,980.8 2173.4,965.4 2173.9,1017.5 2174.4,1020.1 2174.8,1006.2 2175.3,1046.2 2175.8,979.8 2176.2,987.0 2176.7,1022.8 2177.2,998.0 2177.6,987.0 2178.1,1008.6 2178.6,984.9 2179.0,976.8 2179.5,998.0 2180.0,985.9 2180.4,995.7 2180.9,1056.1 2181.4,988.1 2181.9,972.0 2182.3,984.9 2182.8,972.0 2183.3,980.8 2183.7,1026.9 2184.2,1013.6 2184.7,967.3 2185.1,1009.8 2185.6,1024.1 2186.1,1001.4 2186.5,1007.4 2187.0,1038.5 2187.5,1007.4 2187.9,1021.4 2188.4,1007.4 2188.9,990.2 2189.4,978.8 2189.8,1001.4"/>
<polyline fill="none" stroke="#ff0000" stroke-width="4.4" stroke-linejoin="round" stroke-linecap="round" points="342.8,1284.9 344.2,236.0 344.7,221.6 345.2,212.4 345.6,199.3 346.1,190.6 346.6,178.1 347.0,168.1 347.5,156.0 348.0,147.3 348.5,138.5 348.9,130.6 349.4,125.8 349.9,122.4 350.3,118.4 350.8,114.8 351.3,113.1 351.7,108.7 352.2,107.7 352.7,105.8 353.1,105.0 353.6,100.6 354.1,100.1 354.5,99.1 355.0,98.7 355.5,96.1 356.0,97.2 356.4,96.4 356.9,94.7 357.4,95.3 357.8,92.1 358.3,91.4 358.8,90.2 359.2,90.4 359.7,89.2 360.2,90.4 360.6,88.4 361.1,87.0 361.6,86.6 362.0,85.6 362.5,85.7 363.0,84.4 363.5,84.2 363.9,83.6 364.4,82.2 364.9,80.3 365.3,81.3 365.8,80.0 366.3,80.1 366.7,77.2 367.2,77.8 367.7,77.2 368.1,76.2 368.6,75.4 369.1,74.8 369.5,74.3 370.0,74.6 370.5,75.2 371.0,73.4 371.4,72.8 371.9,73.5 372.4,73.5 372.8,73.8 373.3,73.5 373.8,73.3 374.2,73.2 374.7,73.3 375.2,74.3 375.6,73.6 376.1,74.3 376.6,71.4 377.0,74.1 377.5,73.7 378.0,72.9 378.5,73.6 378.9,73.6 379.4,72.8 379.9,72.8 380.3,74.3 380.8,72.0 381.3,71.9 381.7,73.1 382.2,72.9 382.7,73.1 383.1,73.4 383.6,73.3 384.1,73.0 384.5,72.0 385.0,73.8 385.5,73.3 386.0,72.4 386.4,72.8 386.9,72.9 387.4,74.1 387.8,71.9 388.3,73.7 388.8,72.0 389.2,72.1 389.7,73.1 390.2,72.8 390.6,73.8 391.1,72.6 391.6,73.3 392.0,72.5 392.5,71.3 393.0,71.2 393.5,72.0 393.9,72.4 394.4,71.4 394.9,73.2 395.3,71.5 395.8,71.7 396.3,72.1 396.7,72.2 397.2,71.8 397.7,71.1 398.1,70.9 398.6,71.2 399.1,72.2 399.5,70.7 400.0,71.0 400.5,71.1 401.0,71.3 401.4,71.9 401.9,70.7 402.4,72.3 402.8,70.7 403.3,70.2 403.8,71.3 404.2,71.0 404.7,72.2 405.2,72.5 405.6,70.3 406.1,71.3 406.6,71.1 407.0,71.6 407.5,71.6 408.0,71.2 408.5,70.3 408.9,70.6 409.4,72.5 409.9,72.2 410.3,71.9 410.8,71.1 411.3,70.1 411.7,73.1 412.2,72.8 412.7,71.9 413.1,71.6 413.6,72.6 414.1,72.1 414.6,70.9 415.0,72.4 415.5,70.4 416.0,72.4 416.4,73.0 416.9,72.5 417.4,72.1 417.8,72.9 418.3,73.2 418.8,73.4 419.2,73.6 419.7,72.8 420.2,72.9 420.6,73.4 421.1,73.1 421.6,72.5 422.1,73.3 422.5,72.7 423.0,74.1 423.5,73.4 423.9,73.4 424.4,73.2 424.9,73.6 425.3,74.1 425.8,74.5 426.3,74.5 426.7,74.3 427.2,73.4 427.7,74.0 428.1,74.8 428.6,73.8 429.1,74.8 429.6,74.4 430.0,73.4 430.5,74.3 431.0,74.8 431.4,73.6 431.9,76.2 432.4,75.7 432.8,73.3 433.3,75.6 433.8,73.9 434.2,76.3 434.7,76.1 435.2,73.8 435.6,74.8 436.1,74.4 436.6,74.9 437.1,75.0 437.5,75.3 438.0,75.4 438.5,74.9 438.9,73.9 439.4,75.5 439.9,75.8 440.3,73.9 440.8,74.0 441.3,74.1 441.7,75.4 442.2,74.5 442.7,74.9 443.1,73.7 443.6,73.4 444.1,73.0 444.6,73.2 445.0,74.1 445.5,73.6 446.0,73.7 446.4,74.6 446.9,72.9 447.4,73.0 447.8,72.1 448.3,71.2 448.8,69.4 449.2,69.2 449.7,67.5 450.2,66.5 450.6,67.0 451.1,67.0 451.6,66.6 452.1,67.3 452.5,67.1 453.0,66.6 453.5,66.8 453.9,67.6 454.4,66.8 454.9,67.8 455.3,66.8 455.8,66.7 456.3,67.0 456.7,66.6 457.2,68.0 457.7,66.8 458.1,67.1 458.6,65.8 459.1,66.2 459.6,66.3 460.0,66.5 460.5,66.7 461.0,67.1 461.4,65.8 461.9,66.6 462.4,65.6 462.8,67.7 463.3,65.4 463.8,66.6 464.2,65.7 464.7,66.5 465.2,65.6 465.6,65.9 466.1,65.7 466.6,67.1 467.1,65.8 467.5,63.4 468.0,65.2 468.5,64.9 468.9,65.9 469.4,65.1 469.9,63.7 470.3,64.4 470.8,64.9 471.3,64.9 471.7,65.2 472.2,64.4 472.7,63.7 473.1,63.4 473.6,63.1 474.1,64.0 474.6,63.2 475.0,63.0 475.5,63.7 476.0,62.7 476.4,62.0 476.9,63.5 477.4,62.8 477.8,61.8 478.3,61.7 478.8,62.1 479.2,61.2 479.7,62.5 480.2,61.9 480.6,60.9 481.1,61.7 481.6,60.8 482.1,60.2 482.5,60.5 483.0,60.5 483.5,62.8 483.9,91.3 484.4,136.7 484.9,181.9 485.3,205.4 485.8,216.6 486.3,229.8 486.7,237.3 487.2,244.5 487.7,259.5 488.1,261.8 488.6,275.3 489.1,279.5 489.6,294.9 490.0,292.6 490.5,306.7 491.0,323.6 491.4,322.6 491.9,328.4 492.4,341.0 492.8,342.3 493.3,345.9 493.8,350.9 494.2,356.6 494.7,367.0 495.2,365.3 495.6,369.9 496.1,372.6 496.6,376.6 497.1,373.8 497.5,382.8 498.0,390.7 498.5,381.9 498.9,394.2 499.4,394.0 499.9,399.5 500.3,405.2 500.8,411.5 501.3,408.5 501.7,410.8 502.2,417.7 502.7,418.6 503.1,421.2 503.6,427.1 504.1,418.7 504.6,432.4 505.0,433.8 505.5,444.8 506.0,444.8 506.4,462.3 506.9,448.4 507.4,454.4 507.8,454.6 508.3,449.8 508.8,462.9 509.2,460.9 509.7,463.6 510.2,460.6 510.7,465.3 511.1,465.6 511.6,473.8 512.1,463.6 512.5,477.7 513.0,469.3 513.5,473.8 513.9,483.5 514.4,484.3 514.9,487.8 515.3,479.8 515.8,490.1 516.3,491.7 516.7,496.5 517.2,494.7 517.7,494.1 518.2,506.9 518.6,499.3 519.1,506.0 519.6,493.3 520.0,497.6 520.5,508.4 521.0,512.7 521.4,517.9 521.9,507.9 522.4,499.1 522.8,524.3 523.3,517.9 523.8,532.2 524.2,517.6 524.7,542.5 525.2,519.5 525.7,529.3 526.1,516.7 526.6,535.8 527.1,526.3 527.5,525.2 528.0,525.2 528.5,530.0 528.9,534.0 529.4,544.6 529.9,538.9 530.3,543.4 530.8,545.4 531.3,544.1 531.7,559.5 532.2,554.6 532.7,556.0 533.2,547.3 533.6,554.2 534.1,567.6 534.6,555.5 535.0,555.4 535.5,558.3 536.0,573.3 536.4,573.6 536.9,573.0 537.4,567.3 537.8,580.3 538.3,577.3 538.8,568.6 539.2,579.2 539.7,589.3 540.2,574.0 540.7,574.1 541.1,580.9 541.6,580.8 542.1,600.7 542.5,580.3 543.0,589.6 543.5,576.9 543.9,603.1 544.4,570.9 544.9,598.1 545.3,590.8 545.8,594.8 546.3,599.7 546.7,598.1 547.2,605.7 547.7,592.2 548.2,599.5 548.6,584.5 549.1,619.9 549.6,600.9 550.0,606.2 550.5,605.7 551.0,590.6 551.4,605.3 551.9,611.7 552.4,611.6 552.8,595.6 553.3,597.1 553.8,618.5 554.2,616.1 554.7,614.8 555.2,615.0 555.7,607.2 556.1,615.9 556.6,625.2 557.1,627.1 557.5,611.7 558.0,613.3 558.5,619.8 558.9,596.6 559.4,625.2 559.9,623.9 560.3,610.8 560.8,615.2 561.3,636.6 561.7,628.8 562.2,618.3 562.7,622.1 563.2,634.6 563.6,642.0 564.1,622.9 564.6,630.6 565.0,643.3 565.5,646.4 566.0,654.2 566.4,641.4 566.9,615.5 567.4,649.8 567.8,628.3 568.3,632.7 568.8,627.4 569.2,638.1 569.7,634.8 570.2,642.2 570.7,657.4 571.1,643.2 571.6,643.3 572.1,651.2 572.5,644.5 573.0,640.7 573.5,666.5 573.9,645.8 574.4,644.3 574.9,655.1 575.3,637.2 575.8,658.8 576.3,651.4 576.7,644.5 577.2,669.4 577.7,653.8 578.2,648.8 578.6,645.7 579.1,638.5 579.6,668.3 580.0,664.0 580.5,658.8 581.0,658.0 581.4,652.8 581.9,641.4 582.4,655.3 582.8,669.0 583.3,647.0 583.8,666.0 584.2,658.8 584.7,663.6 585.2,672.7 585.7,675.7 586.1,671.3 586.6,682.8 587.1,677.7 587.5,688.2 588.0,680.8 588.5,685.1 588.9,693.2 589.4,687.7 589.9,677.7 590.3,676.7 590.8,678.4 591.3,651.2 591.7,675.0 592.2,693.8 592.7,683.6 593.2,680.3 593.6,685.4 594.1,687.2 594.6,698.2 595.0,694.0 595.5,687.2 596.0,683.1 596.4,682.6 596.9,721.1 597.4,691.1 597.8,705.0 598.3,705.0 598.8,683.1 599.2,713.8 599.7,713.4 600.2,701.3 600.7,694.3 601.1,681.3 601.6,704.7 602.1,705.0 602.5,724.7 603.0,704.4 603.5,717.8 603.9,696.2 604.4,689.5 604.9,716.3 605.3,720.1 605.8,703.3 606.3,702.7 606.7,709.8 607.2,712.2 607.7,729.8 608.2,711.6 608.6,710.4 609.1,705.0 609.6,710.4 610.0,720.4 610.5,733.7 611.0,723.1 611.4,707.7 611.9,719.8 612.4,708.0 612.8,722.7 613.3,738.0 613.8,708.0 614.3,715.0 614.7,715.6 615.2,726.7 615.7,718.5 616.1,733.0 616.6,733.7 617.1,719.5 617.5,722.4 618.0,699.8 618.5,727.8 618.9,770.0 619.4,736.9 619.9,730.9 620.3,725.7 620.8,712.5 621.3,735.9 621.8,729.1 622.2,734.4 622.7,737.7 623.2,719.5 623.6,707.1 624.1,730.5 624.6,732.3 625.0,734.8 625.5,738.4 626.0,743.3 626.4,739.1 626.9,737.3 627.4,721.1 627.8,733.7 628.3,739.1 628.8,756.4 629.3,730.5 629.7,747.1 630.2,743.7 630.7,722.7 631.1,737.7 631.6,754.4 632.1,733.0 632.5,751.9 633.0,737.3 633.5,726.4 633.9,739.5 634.4,738.4 634.9,750.7 635.3,744.4 635.8,723.7 636.3,730.2 636.8,748.7 637.2,731.9 637.7,750.3 638.2,756.8 638.6,747.5 639.1,748.3 639.6,749.1 640.0,761.5 640.5,771.8 641.0,749.5 641.4,767.7 641.9,750.3 642.4,751.1 642.8,766.8 643.3,780.4 643.8,748.7 644.3,745.2 644.7,765.0 645.2,753.1 645.7,775.1 646.1,756.8 646.6,763.3 647.1,753.9 647.5,767.7 648.0,760.2 648.5,752.3 648.9,755.6 649.4,754.4 649.9,742.5 650.3,757.7 650.8,739.9 651.3,777.5 651.8,714.1 652.2,747.9 652.7,768.6 653.2,766.4 653.6,752.7 654.1,759.4 654.6,771.4 655.0,750.3 655.5,758.1 656.0,771.8 656.4,768.1 656.9,759.4 657.4,764.1 657.8,784.4 658.3,773.2 658.8,761.5 659.3,776.1 659.7,773.7 660.2,749.1 660.7,759.0 661.1,759.0 661.6,788.0 662.1,760.7 662.5,767.2 663.0,776.1 663.5,770.0 663.9,787.5 664.4,764.6 664.9,782.4 665.3,809.2 665.8,778.0 666.3,781.9 666.8,775.1 667.2,798.2 667.7,765.5 668.2,780.4 668.6,776.1 669.1,773.7 669.6,785.9 670.0,786.4 670.5,761.5 671.0,771.8 671.4,789.6 671.9,781.4 672.4,827.1 672.8,762.0 673.3,766.8 673.8,782.9 674.3,782.9 674.7,793.3 675.2,778.5 675.7,764.1 676.1,794.4 676.6,792.2 677.1,810.4 677.5,786.4 678.0,781.4 678.5,782.4 678.9,774.2 679.4,779.9 679.9,814.7 680.3,773.7 680.8,798.2 681.3,817.2 681.8,788.5 682.2,771.8 682.7,798.8 683.2,801.6 683.6,806.8 684.1,795.4 684.6,791.1 685.0,793.3 685.5,771.4 686.0,788.5 686.4,803.3 686.9,797.1 687.4,786.4 687.8,804.5 688.3,775.6 688.8,809.8 689.3,802.2 689.7,778.0 690.2,821.1 690.7,809.2 691.1,823.0 691.6,833.3 692.1,803.9 692.5,772.3 693.0,805.6 693.5,799.3 693.9,788.0 694.4,804.5 694.9,785.4 695.3,845.9 695.8,808.6 696.3,815.3 696.8,802.7 697.2,796.5 697.7,802.7 698.2,801.6 698.6,833.3 699.1,786.4 699.6,813.4 700.0,822.4 700.5,805.6 701.0,803.3 701.4,826.4 701.9,801.6 702.4,819.8 702.8,838.4 703.3,822.4 703.8,821.1 704.3,833.3 704.7,823.7 705.2,785.9 705.7,817.8 706.1,820.4 706.6,812.2 707.1,815.9 707.5,819.1 708.0,844.4 708.5,840.6 708.9,824.4 709.4,825.0 709.9,817.2 710.4,853.0 710.8,842.8 711.3,822.4 711.8,811.6 712.2,817.8 712.7,828.4 713.2,829.1 713.6,823.7 714.1,818.5 714.6,817.8 715.0,803.9 715.5,789.0 716.0,815.3 716.4,815.9 716.9,831.2 717.4,832.6 717.9,824.4 718.3,831.2 718.8,813.4 719.3,827.1 719.7,837.6 720.2,841.3 720.7,815.3 721.1,811.0 721.6,830.5 722.1,821.7 722.5,799.3 723.0,843.6 723.5,831.9 723.9,808.6 724.4,828.4 724.9,827.7 725.4,826.4 725.8,841.3 726.3,832.6 726.8,826.4 727.2,835.5 727.7,805.6 728.2,841.3 728.6,864.9 729.1,812.8 729.6,839.8 730.0,825.7 730.5,843.6 731.0,845.1 731.4,836.9 731.9,843.6 732.4,823.7 732.9,829.1 733.3,831.2 733.8,849.8 734.3,806.8 734.7,836.9 735.2,827.1 735.7,814.1 736.1,852.2 736.6,822.4 737.1,856.3 737.5,848.2 738.0,820.4 738.5,835.5 738.9,830.5 739.4,848.2 739.9,836.2 740.4,856.3 740.8,838.4 741.3,870.3 741.8,843.6 742.2,869.4 742.7,874.0 743.2,847.5 743.6,853.9 744.1,858.8 744.6,834.7 745.0,839.1 745.5,831.9 746.0,821.1 746.4,834.0 746.9,834.7 747.4,850.6 747.9,836.2 748.3,864.9 748.8,860.5 749.3,888.8 749.7,833.3 750.2,850.6 750.7,869.4 751.1,877.8 751.6,834.7 752.1,856.3 752.5,859.7 753.0,868.5 753.5,842.8 753.9,831.2 754.4,834.7 754.9,817.2 755.4,849.8 755.8,863.1 756.3,853.9 756.8,864.9 757.2,866.7 757.7,874.9 758.2,849.8 758.6,835.5 759.1,872.1 759.6,874.9 760.0,824.4 760.5,879.8 761.0,836.2 761.4,862.3 761.9,843.6 762.4,851.4 762.9,882.7 763.3,859.7 763.8,853.0 764.3,885.7 764.7,885.7 765.2,839.1 765.7,851.4 766.1,871.2 766.6,841.3 767.1,872.1 767.5,845.1 768.0,827.7 768.5,869.4 768.9,852.2 769.4,858.0 769.9,857.2 770.4,873.1 770.8,874.0 771.3,864.0 771.8,856.3 772.2,870.3 772.7,858.0 773.2,863.1 773.6,862.3 774.1,883.7 774.6,857.2 775.0,875.9 775.5,847.5 776.0,867.6 776.4,866.7 776.9,868.5 777.4,885.7 777.9,874.0 778.3,892.0 778.8,864.0 779.3,868.5 779.7,865.8 780.2,864.9 780.7,892.0 781.1,888.8 781.6,873.1 782.1,874.9 782.5,895.2 783.0,836.9 783.5,888.8 783.9,880.7 784.4,879.8 784.9,890.9 785.4,889.9 785.8,896.3 786.3,907.7 786.8,873.1 787.2,880.7 787.7,892.0 788.2,887.8 788.6,894.1 789.1,883.7 789.6,882.7 790.0,867.6 790.5,874.0 791.0,875.9 791.4,882.7 791.9,890.9 792.4,874.9 792.9,890.9 793.3,873.1 793.8,877.8 794.3,864.9 794.7,913.8 795.2,871.2 795.7,889.9 796.1,901.9 796.6,899.6 797.1,864.9 797.5,875.9 798.0,862.3 798.5,890.9 798.9,868.5 799.4,892.0 799.9,882.7 800.4,885.7 800.8,869.4 801.3,936.5 801.8,884.7 802.2,895.2 802.7,875.9 803.2,911.3 803.6,910.1 804.1,917.5 804.6,904.2 805.0,945.4 805.5,926.7 806.0,903.0 806.5,868.5 806.9,896.3 807.4,922.7 807.9,913.8 808.3,894.1 808.8,889.9 809.3,903.0 809.7,888.8 810.2,899.6 810.7,878.8 811.1,908.9 811.6,907.7 812.1,881.7 812.5,893.1 813.0,913.8 813.5,898.5 814.0,883.7 814.4,887.8 814.9,888.8 815.4,910.1 815.8,896.3 816.3,851.4 816.8,961.7 817.2,882.7 817.7,925.4 818.2,925.4 818.6,915.0 819.1,916.3 819.6,895.2 820.0,943.9 820.5,906.5 821.0,908.9 821.5,906.5 821.9,887.8 822.4,895.2 822.9,886.8 823.3,920.1 823.8,924.0 824.3,868.5 824.7,937.9 825.2,873.1 825.7,912.5 826.1,925.4 826.6,879.8 827.1,892.0 827.5,850.6 828.0,908.9 828.5,889.9 829.0,904.2 829.4,885.7 829.9,912.5 830.4,910.1 830.8,904.2 831.3,900.8 831.8,894.1 832.2,935.1 832.7,895.2 833.2,924.0 833.6,890.9 834.1,893.1 834.6,920.1 835.0,913.8 835.5,917.5 836.0,878.8 836.5,930.8 836.9,866.7 837.4,872.1 837.9,918.8 838.3,897.4 838.8,910.1 839.3,894.1 839.7,889.9 840.2,866.7 840.7,940.9 841.1,937.9 841.6,907.7 842.1,898.5 842.5,924.0 843.0,887.8 843.5,885.7 844.0,899.6 844.4,889.9 844.9,906.5 845.4,950.1 845.8,884.7 846.3,926.7 846.8,904.2 847.2,905.4 847.7,920.1 848.2,912.5 848.6,881.7 849.1,928.1 849.6,928.1 850.0,925.4 850.5,955.0 851.0,905.4 851.5,905.4 851.9,870.3 852.4,916.3 852.9,950.1 853.3,939.4 853.8,895.2 854.3,893.1 854.7,911.3 855.2,936.5 855.7,888.8 856.1,948.6 856.6,918.8 857.1,916.3 857.5,921.4 858.0,892.0 858.5,936.5 859.0,929.4 859.4,968.8 859.9,950.1 860.4,945.4 860.8,912.5 861.3,915.0 861.8,958.3 862.2,897.4 862.7,897.4 863.2,918.8 863.6,907.7 864.1,918.8 864.6,961.7 865.0,937.9 865.5,939.4 866.0,926.7 866.5,922.7 866.9,930.8 867.4,936.5 867.9,926.7 868.3,924.0 868.8,940.9 869.3,925.4 869.7,950.1 870.2,917.5 870.7,968.8 871.1,937.9 871.6,904.2 872.1,930.8 872.5,907.7 873.0,963.5 873.5,922.7 874.0,1008.0 874.4,936.5 874.9,916.3 875.4,929.4 875.8,892.0 876.3,951.7 876.8,922.7 877.2,922.7 877.7,937.9 878.2,936.5 878.6,933.6 879.1,922.7 879.6,910.1 880.0,935.1 880.5,924.0 881.0,958.3 881.5,908.9 881.9,940.9 882.4,950.1 882.9,908.9 883.3,920.1 883.8,955.0 884.3,936.5 884.7,890.9 885.2,937.9 885.7,950.1 886.1,940.9 886.6,918.8 887.1,936.5 887.5,945.4 888.0,916.3 888.5,911.3 889.0,940.9 889.4,925.4 889.9,882.7 890.4,945.4 890.8,947.0 891.3,915.0 891.8,978.1 892.2,928.1 892.7,947.0 893.2,937.9 893.6,972.5 894.1,943.9 894.6,924.0 895.0,935.1 895.5,936.5 896.0,960.0 896.5,912.5 896.9,943.9 897.4,930.8 897.9,933.6 898.3,899.6 898.8,965.2 899.3,936.5 899.7,940.9 900.2,980.1 900.7,888.8 901.1,930.8 901.6,925.4 902.1,930.8 902.6,932.2 903.0,953.4 903.5,936.5 904.0,937.9 904.4,948.6 904.9,980.1 905.4,929.4 905.8,939.4 906.3,955.0 906.8,960.0 907.2,948.6 907.7,935.1 908.2,943.9 908.6,948.6 909.1,930.8 909.6,916.3 910.1,948.6 910.5,980.1 911.0,935.1 911.5,925.4 911.9,945.4 912.4,926.7 912.9,956.6 913.3,960.0 913.8,933.6 914.3,925.4 914.7,925.4 915.2,930.8 915.7,894.1 916.1,1003.4 916.6,984.0 917.1,912.5 917.6,965.2 918.0,953.4 918.5,967.0 919.0,982.0 919.4,967.0 919.9,970.6 920.4,940.9 920.8,984.0 921.3,960.0 921.8,889.9 922.2,922.7 922.7,916.3 923.2,988.1 923.6,951.7 924.1,945.4 924.6,956.6 925.1,961.7 925.5,930.8 926.0,936.5 926.5,948.6 926.9,899.6 927.4,956.6 927.9,945.4 928.3,945.4 928.8,951.7 929.3,967.0 929.7,970.6 930.2,972.5 930.7,984.0 931.1,961.7 931.6,960.0 932.1,967.0 932.6,986.1 933.0,918.8 933.5,978.1 934.0,942.4 934.4,945.4 934.9,965.2 935.4,965.2 935.8,955.0 936.3,948.6 936.8,982.0 937.2,930.8 937.7,920.1 938.2,992.3 938.6,953.4 939.1,910.1 939.6,933.6 940.1,976.2 940.5,960.0 941.0,982.0 941.5,958.3 941.9,940.9 942.4,925.4 942.9,996.6 943.3,937.9 943.8,976.2 944.3,1036.8 944.7,968.8 945.2,916.3 945.7,1017.8 946.1,924.0 946.6,960.0 947.1,933.6 947.6,918.8 948.0,972.5 948.5,951.7 949.0,937.9 949.4,972.5 949.9,933.6 950.4,921.4 950.8,984.0 951.3,978.1 951.8,958.3 952.2,956.6 952.7,988.1 953.2,955.0 953.6,958.3 954.1,951.7 954.6,963.5 955.1,956.6 955.5,986.1 956.0,968.8 956.5,984.0 956.9,940.9 957.4,960.0 957.9,984.0 958.3,1008.0 958.8,960.0 959.3,948.6 959.7,942.4 960.2,961.7 960.7,968.8 961.1,970.6 961.6,974.3 962.1,956.6 962.6,976.2 963.0,965.2 963.5,948.6 964.0,990.2 964.4,972.5 964.9,967.0 965.4,972.5 965.8,955.0 966.3,970.6 966.8,976.2 967.2,953.4 967.7,976.2 968.2,963.5 968.6,960.0 969.1,996.6 969.6,1017.8 970.1,1010.4 970.5,982.0 971.0,951.7 971.5,980.1 971.9,982.0 972.4,930.8 972.9,978.1 973.3,992.3 973.8,968.8 974.3,988.1 974.7,1010.4 975.2,980.1 975.7,972.5 976.1,988.1 976.6,976.2 977.1,961.7 977.6,961.7 978.0,1008.0 978.5,937.9 979.0,986.1 979.4,960.0 979.9,976.2 980.4,974.3 980.8,1017.8 981.3,960.0 981.8,996.6 982.2,986.1 982.7,956.6 983.2,976.2 983.6,961.7 984.1,974.3 984.6,976.2 985.1,984.0 985.5,996.6 986.0,933.6 986.5,965.2 986.9,976.2 987.4,996.6 987.9,974.3 988.3,994.5 988.8,967.0 989.3,950.1 989.7,986.1 990.2,926.7 990.7,960.0 991.1,961.7 991.6,978.1 992.1,998.8 992.6,968.8 993.0,986.1 993.5,996.6 994.0,951.7 994.4,940.9 994.9,930.8 995.4,1017.8 995.8,967.0 996.3,972.5 996.8,968.8 997.2,978.1 997.7,988.1 998.2,970.6 998.7,978.1 999.1,968.8 999.6,963.5 1000.1,976.2 1000.5,1008.0 1001.0,970.6 1001.5,998.8 1001.9,998.8 1002.4,976.2 1002.9,982.0 1003.3,994.5 1003.8,1012.9 1004.3,984.0 1004.7,958.3 1005.2,988.1 1005.7,1005.7 1006.2,960.0 1006.6,992.3 1007.1,978.1 1007.6,968.8 1008.0,970.6 1008.5,965.2 1009.0,984.0 1009.4,976.2 1009.9,963.5 1010.4,958.3 1010.8,1028.4 1011.3,980.1 1011.8,951.7 1012.2,994.5 1012.7,974.3 1013.2,998.8 1013.7,963.5 1014.1,970.6 1014.6,1012.9 1015.1,996.6 1015.5,990.2 1016.0,986.1 1016.5,974.3 1016.9,1015.3 1017.4,982.0 1017.9,960.0 1018.3,1015.3 1018.8,1008.0 1019.3,1010.4 1019.7,972.5 1020.2,1017.8 1020.7,990.2 1021.2,986.1 1021.6,984.0 1022.1,936.5 1022.6,1025.7 1023.0,988.1 1023.5,1010.4 1024.0,960.0 1024.4,1012.9 1024.9,1015.3 1025.4,965.2 1025.8,988.1 1026.3,1003.4 1026.8,1012.9 1027.2,1036.8 1027.7,1017.8 1028.2,996.6 1028.7,1008.0 1029.1,996.6 1029.6,998.8 1030.1,996.6 1030.5,1008.0 1031.0,1048.9 1031.5,958.3 1031.9,960.0 1032.4,992.3 1032.9,1072.8 1033.3,1008.0 1033.8,1039.7 1034.3,948.6 1034.7,1033.9 1035.2,986.1 1035.7,922.7 1036.2,986.1 1036.6,1042.7 1037.1,1003.4 1037.6,1020.4 1038.0,1012.9 1038.5,1012.9 1039.0,1008.0 1039.4,1001.1 1039.9,982.0 1040.4,982.0 1040.8,965.2 1041.3,1031.1 1041.8,1028.4 1042.2,1072.8 1042.7,994.5 1043.2,1028.4 1043.7,1015.3 1044.1,988.1 1044.6,974.3 1045.1,986.1 1045.5,1069.1 1046.0,996.6 1046.5,1005.7 1046.9,1008.0 1047.4,960.0 1047.9,1025.7 1048.3,982.0 1048.8,1020.4 1049.3,942.4 1049.7,1020.4 1050.2,1020.4 1050.7,998.8 1051.2,967.0 1051.6,1001.1 1052.1,990.2 1052.6,994.5 1053.0,1092.6 1053.5,982.0 1054.0,990.2 1054.4,976.2 1054.9,965.2 1055.4,976.2 1055.8,984.0 1056.3,1005.7 1056.8,1001.1 1057.2,1020.4 1057.7,1008.0 1058.2,994.5 1058.7,1025.7 1059.1,956.6 1059.6,1012.9 1060.1,992.3 1060.5,1033.9 1061.0,1045.8 1061.5,1010.4 1061.9,996.6 1062.4,988.1 1062.9,984.0 1063.3,1028.4 1063.8,976.2 1064.3,978.1 1064.7,1008.0 1065.2,1025.7 1065.7,1010.4 1066.2,994.5 1066.6,1052.1 1067.1,1017.8 1067.6,992.3 1068.0,1045.8 1068.5,976.2 1069.0,1003.4 1069.4,1031.1 1069.9,1001.1 1070.4,980.1 1070.8,988.1 1071.3,996.6 1071.8,992.3 1072.2,1023.0 1072.7,1012.9 1073.2,950.1 1073.7,1042.7 1074.1,963.5 1074.6,1031.1 1075.1,1036.8 1075.5,990.2 1076.0,1005.7 1076.5,1017.8 1076.9,1001.1 1077.4,1015.3 1077.9,1039.7 1078.3,986.1 1078.8,1025.7 1079.3,1028.4 1079.7,1101.4 1080.2,1036.8 1080.7,998.8 1081.2,1005.7 1081.6,990.2 1082.1,1003.4 1082.6,1001.1 1083.0,1033.9 1083.5,1020.4 1084.0,980.1 1084.4,1001.1 1084.9,965.2 1085.4,1025.7 1085.8,1003.4 1086.3,1008.0 1086.8,1048.9 1087.2,1001.1 1087.7,998.8 1088.2,1005.7 1088.7,1036.8 1089.1,1015.3 1089.6,1025.7 1090.1,1015.3 1090.5,1001.1 1091.0,1001.1 1091.5,988.1 1091.9,1042.7 1092.4,1039.7 1092.9,1039.7 1093.3,978.1 1093.8,1012.9 1094.3,986.1 1094.7,1020.4 1095.2,1020.4 1095.7,976.2 1096.2,1031.1 1096.6,1020.4 1097.1,1033.9 1097.6,1031.1 1098.0,951.7 1098.5,1025.7 1099.0,1005.7 1099.4,996.6 1099.9,1001.1 1100.4,1036.8 1100.8,1058.6 1101.3,1010.4 1101.8,1017.8 1102.3,1010.4 1102.7,1058.6 1103.2,996.6 1103.7,1020.4 1104.1,1031.1 1104.6,1058.6 1105.1,1055.3 1105.5,990.2 1106.0,1048.9 1106.5,1058.6 1106.9,986.1 1107.4,1028.4 1107.9,998.8 1108.3,1036.8 1108.8,1010.4 1109.3,1003.4 1109.8,1048.9 1110.2,968.8 1110.7,1033.9 1111.2,1003.4 1111.6,1062.0 1112.1,1017.8 1112.6,1025.7 1113.0,1033.9 1113.5,1033.9 1114.0,1025.7 1114.4,970.6 1114.9,990.2 1115.4,1028.4 1115.8,990.2 1116.3,978.1 1116.8,1048.9 1117.3,994.5 1117.7,1039.7 1118.2,1028.4 1118.7,1017.8 1119.1,1031.1 1119.6,1025.7 1120.1,1072.8 1120.5,984.0 1121.0,1010.4 1121.5,1003.4 1121.9,1023.0 1122.4,1010.4 1122.9,1055.3 1123.3,998.8 1123.8,1025.7 1124.3,1058.6 1124.8,1039.7 1125.2,1048.9 1125.7,1010.4 1126.2,1015.3 1126.6,1055.3 1127.1,1033.9 1127.6,1039.7 1128.0,1072.8 1128.5,1010.4 1129.0,1031.1 1129.4,1058.6 1129.9,1048.9 1130.4,1015.3 1130.8,1005.7 1131.3,1065.5 1131.8,1012.9 1132.3,1031.1 1132.7,1017.8 1133.2,1028.4 1133.7,1048.9 1134.1,1023.0 1134.6,1036.8 1135.1,1012.9 1135.5,1015.3 1136.0,1076.5 1136.5,1072.8 1136.9,1039.7 1137.4,1010.4 1137.9,1005.7 1138.3,1008.0 1138.8,1058.6 1139.3,1080.4 1139.8,1031.1 1140.2,1008.0 1140.7,990.2 1141.2,1003.4 1141.6,990.2 1142.1,1065.5 1142.6,996.6 1143.0,994.5 1143.5,1065.5 1144.0,1012.9 1144.4,1025.7 1144.9,1020.4 1145.4,986.1 1145.8,1039.7 1146.3,1065.5 1146.8,1008.0 1147.3,1003.4 1147.7,1076.5 1148.2,1020.4 1148.7,1036.8 1149.1,1036.8 1149.6,996.6 1150.1,1101.4 1150.5,1039.7 1151.0,1025.7 1151.5,1023.0 1151.9,1023.0 1152.4,1048.9 1152.9,1052.1 1153.3,1033.9 1153.8,1036.8 1154.3,1058.6 1154.8,1028.4 1155.2,1005.7 1155.7,1084.4 1156.2,1017.8 1156.6,1023.0 1157.1,1084.4 1157.6,1096.9 1158.0,1042.7 1158.5,1069.1 1159.0,1028.4 1159.4,1069.1 1159.9,1052.1 1160.4,998.8 1160.8,1023.0 1161.3,1010.4 1161.8,1076.5 1162.3,1052.1 1162.7,1069.1 1163.2,1045.8 1163.7,1039.7 1164.1,1065.5 1164.6,1080.4 1165.1,1045.8 1165.5,996.6 1166.0,1025.7 1166.5,1036.8 1166.9,1052.1 1167.4,1033.9 1167.9,1015.3 1168.3,1055.3 1168.8,1080.4 1169.3,1015.3 1169.8,1010.4 1170.2,1058.6 1170.7,998.8 1171.2,1092.6 1171.6,1069.1 1172.1,1033.9 1172.6,1010.4 1173.0,1039.7 1173.5,1020.4 1174.0,1020.4 1174.4,1023.0 1174.9,1039.7 1175.4,1033.9 1175.8,1012.9 1176.3,1045.8 1176.8,1003.4 1177.3,1042.7 1177.7,1096.9 1178.2,1096.9 1178.7,1028.4 1179.1,1033.9 1179.6,1052.1 1180.1,1042.7 1180.5,1020.4 1181.0,1045.8 1181.5,1017.8 1181.9,1039.7 1182.4,1039.7 1182.9,1149.2 1183.3,1025.7 1183.8,1084.4 1184.3,1010.4 1184.8,1036.8 1185.2,1020.4 1185.7,1033.9 1186.2,1033.9 1186.6,1039.7 1187.1,1031.1 1187.6,1031.1 1188.0,1033.9 1188.5,1033.9 1189.0,1072.8 1189.4,1028.4 1189.9,1008.0 1190.4,1023.0 1190.8,1062.0 1191.3,994.5 1191.8,1010.4 1192.3,1015.3 1192.7,1025.7 1193.2,1028.4 1193.7,1052.1 1194.1,992.3 1194.6,1088.4 1195.1,1065.5 1195.5,1042.7 1196.0,1020.4 1196.5,1001.1 1196.9,1055.3 1197.4,1042.7 1197.9,1042.7 1198.4,994.5 1198.8,1052.1 1199.3,1088.4 1199.8,1101.4 1200.2,1058.6 1200.7,1025.7 1201.2,1052.1 1201.6,1115.6 1202.1,1036.8 1202.6,1120.7 1203.0,1055.3 1203.5,1039.7 1204.0,1101.4 1204.4,1072.8 1204.9,1062.0 1205.4,1072.8 1205.9,994.5 1206.3,1072.8 1206.8,1084.4 1207.3,1042.7 1207.7,1076.5 1208.2,1096.9 1208.7,1036.8 1209.1,1008.0 1209.6,1055.3 1210.1,1072.8 1210.5,1031.1 1211.0,1076.5 1211.5,1052.1 1211.9,1039.7 1212.4,1036.8 1212.9,1080.4 1213.4,1055.3 1213.8,1033.9 1214.3,1025.7 1214.8,1080.4 1215.2,1096.9 1215.7,1084.4 1216.2,1028.4 1216.6,1017.8 1217.1,955.0 1217.6,1069.1 1218.0,1055.3 1218.5,1065.5 1219.0,1033.9 1219.4,1101.4 1219.9,1110.7 1220.4,1055.3 1220.9,1106.0 1221.3,1031.1 1221.8,1115.6 1222.3,1031.1 1222.7,1058.6 1223.2,1076.5 1223.7,1045.8 1224.1,1031.1 1224.6,1058.6 1225.1,1072.8 1225.5,1042.7 1226.0,1062.0 1226.5,1076.5 1226.9,1055.3 1227.4,1088.4 1227.9,1031.1 1228.4,1184.7 1228.8,1092.6 1229.3,1069.1 1229.8,1080.4 1230.2,1126.0 1230.7,1084.4 1231.2,1042.7 1231.6,1055.3 1232.1,1096.9 1232.6,1055.3 1233.0,1042.7 1233.5,1052.1 1234.0,1072.8 1234.4,1065.5 1234.9,1080.4 1235.4,1072.8 1235.9,1031.1 1236.3,1096.9 1236.8,1062.0 1237.3,1055.3 1237.7,1048.9 1238.2,1055.3 1238.7,1055.3 1239.1,1131.5 1239.6,1101.4 1240.1,1065.5 1240.5,1031.1 1241.0,1076.5 1241.5,1115.6 1241.9,1048.9 1242.4,1110.7 1242.9,1015.3 1243.4,1076.5 1243.8,980.1 1244.3,1005.7 1244.8,1072.8 1245.2,1115.6 1245.7,1096.9 1246.2,1072.8 1246.6,1101.4 1247.1,1101.4 1247.6,1065.5 1248.0,1052.1 1248.5,1137.1 1249.0,1143.0 1249.4,1076.5 1249.9,1076.5 1250.4,1101.4 1250.9,1045.8 1251.3,1069.1 1251.8,1131.5 1252.3,1036.8 1252.7,1052.1 1253.2,1052.1 1253.7,1062.0 1254.1,1055.3 1254.6,1084.4 1255.1,1069.1 1255.5,1120.7 1256.0,1084.4 1256.5,1045.8 1256.9,1033.9 1257.4,1025.7 1257.9,1042.7 1258.4,1008.0 1258.8,1131.5 1259.3,1080.4 1259.8,1025.7 1260.2,1076.5 1260.7,1092.6 1261.2,1052.1 1261.6,1052.1 1262.1,1076.5 1262.6,1096.9 1263.0,1065.5 1263.5,1080.4 1264.0,1072.8 1264.4,1055.3 1264.9,1096.9 1265.4,1042.7 1265.9,1076.5 1266.3,1069.1 1266.8,1065.5 1267.3,1076.5 1267.7,1101.4 1268.2,1017.8 1268.7,1088.4 1269.1,1052.1 1269.6,1005.7 1270.1,1076.5 1270.5,1131.5 1271.0,1076.5 1271.5,1120.7 1271.9,1069.1 1272.4,1137.1 1272.9,1065.5 1273.4,1101.4 1273.8,1084.4 1274.3,1096.9 1274.8,1069.1 1275.2,1120.7 1275.7,1126.0 1276.2,1017.8 1276.6,1055.3 1277.1,1015.3 1277.6,1012.9 1278.0,1045.8 1278.5,1088.4 1279.0,1137.1 1279.4,1101.4 1279.9,1076.5 1280.4,1005.7 1280.9,1036.8 1281.3,1052.1 1281.8,1062.0 1282.3,1065.5 1282.7,1155.6 1283.2,1110.7 1283.7,1055.3 1284.1,1069.1 1284.6,1042.7 1285.1,1058.6 1285.5,1023.0 1286.0,1052.1 1286.5,1076.5 1286.9,1101.4 1287.4,1088.4 1287.9,1052.1 1288.4,1149.2 1288.8,1072.8 1289.3,1092.6 1289.8,1084.4 1290.2,1096.9 1290.7,1115.6 1291.2,1055.3 1291.6,1015.3 1292.1,1023.0 1292.6,1025.7 1293.0,1143.0 1293.5,1092.6 1294.0,1080.4 1294.5,1084.4 1294.9,1137.1 1295.4,1101.4 1295.9,1084.4 1296.3,1120.7 1296.8,1115.6 1297.3,1055.3 1297.7,1106.0 1298.2,1092.6 1298.7,1042.7 1299.1,1115.6 1299.6,1143.0 1300.1,1096.9 1300.5,982.0 1301.0,1096.9 1301.5,1092.6 1302.0,1072.8 1302.4,1055.3 1302.9,1137.1 1303.4,980.1 1303.8,1076.5 1304.3,1131.5 1304.8,1055.3 1305.2,1092.6 1305.7,1088.4 1306.2,1045.8 1306.6,1069.1 1307.1,1101.4 1307.6,1065.5 1308.0,1088.4 1308.5,1048.9 1309.0,1137.1 1309.5,1084.4 1309.9,1084.4 1310.4,1062.0 1310.9,1088.4 1311.3,1110.7 1311.8,1072.8 1312.3,1162.4 1312.7,1131.5 1313.2,1076.5 1313.7,1115.6 1314.1,1031.1 1314.6,1080.4 1315.1,1055.3 1315.5,1076.5 1316.0,1033.9 1316.5,1120.7 1317.0,1072.8 1317.4,1023.0 1317.9,1052.1 1318.4,1137.1 1318.8,1115.6 1319.3,1042.7 1319.8,1080.4 1320.2,1058.6 1320.7,1131.5 1321.2,1072.8 1321.6,1033.9 1322.1,1080.4 1322.6,1110.7 1323.0,1084.4 1323.5,1106.0 1324.0,1076.5 1324.5,1088.4 1324.9,1115.6 1325.4,1092.6 1325.9,1092.6 1326.3,1042.7 1326.8,1101.4 1327.3,1092.6 1327.7,1036.8 1328.2,1065.5 1328.7,1110.7 1329.1,1088.4 1329.6,1052.1 1330.1,1042.7 1330.5,1069.1 1331.0,1069.1 1331.5,994.5 1332.0,1069.1 1332.4,1088.4 1332.9,1106.0 1333.4,1131.5 1333.8,1055.3 1334.3,1096.9 1334.8,1126.0 1335.2,1192.9 1335.7,1028.4 1336.2,1080.4 1336.6,1137.1 1337.1,1069.1 1337.6,1101.4 1338.0,994.5 1338.5,1048.9 1339.0,1055.3 1339.5,1101.4 1339.9,1080.4 1340.4,1088.4 1340.9,998.8 1341.3,1080.4 1341.8,1076.5 1342.3,1069.1 1342.7,1076.5 1343.2,1092.6 1343.7,1080.4 1344.1,1072.8 1344.6,1092.6 1345.1,1084.4 1345.5,1017.8 1346.0,1106.0 1346.5,1076.5 1347.0,1080.4 1347.4,1084.4 1347.9,1072.8 1348.4,1062.0 1348.8,1092.6 1349.3,1069.1 1349.8,1110.7 1350.2,1080.4 1350.7,1080.4 1351.2,1084.4 1351.6,1131.5 1352.1,1080.4 1352.6,1106.0 1353.0,1080.4 1353.5,1052.1 1354.0,1069.1 1354.5,1065.5 1354.9,1076.5 1355.4,1048.9 1355.9,1052.1 1356.3,1084.4 1356.8,1126.0 1357.3,1036.8 1357.7,1062.0 1358.2,1058.6 1358.7,1092.6 1359.1,1084.4 1359.6,1106.0 1360.1,1088.4 1360.5,1072.8 1361.0,1028.4 1361.5,1062.0 1362.0,1110.7 1362.4,1106.0 1362.9,1055.3 1363.4,1120.7 1363.8,1096.9 1364.3,1042.7 1364.8,1072.8 1365.2,1076.5 1365.7,1058.6 1366.2,1101.4 1366.6,1137.1 1367.1,1080.4 1367.6,1110.7 1368.0,1084.4 1368.5,1115.6 1369.0,1058.6 1369.5,1126.0 1369.9,1101.4 1370.4,1084.4 1370.9,1115.6 1371.3,1072.8 1371.8,1092.6 1372.3,1076.5 1372.7,1084.4 1373.2,1101.4 1373.7,1092.6 1374.1,1084.4 1374.6,1072.8 1375.1,1096.9 1375.5,1080.4 1376.0,1096.9 1376.5,1065.5 1377.0,1031.1 1377.4,1069.1 1377.9,1131.5 1378.4,1020.4 1378.8,1076.5 1379.3,1131.5 1379.8,1096.9 1380.2,1092.6 1380.7,1084.4 1381.2,1072.8 1381.6,1072.8 1382.1,1052.1 1382.6,1106.0 1383.0,1101.4 1383.5,1149.2 1384.0,1028.4 1384.5,1096.9 1384.9,1126.0 1385.4,1126.0 1385.9,1131.5 1386.3,1039.7 1386.8,1092.6 1387.3,1048.9 1387.7,1115.6 1388.2,1084.4 1388.7,1143.0 1389.1,1069.1 1389.6,1092.6 1390.1,1065.5 1390.6,1096.9 1391.0,1126.0 1391.5,1120.7 1392.0,1162.4 1392.4,1120.7 1392.9,1126.0 1393.4,1155.6 1393.8,1120.7 1394.3,1231.8 1394.8,1106.0 1395.2,1110.7 1395.7,1162.4 1396.2,1155.6 1396.6,1106.0 1397.1,1052.1 1397.6,1028.4 1398.1,1106.0 1398.5,1110.7 1399.0,1143.0 1399.5,1092.6 1399.9,1131.5 1400.4,1106.0 1400.9,1072.8 1401.3,1162.4 1401.8,1088.4 1402.3,1088.4 1402.7,1010.4 1403.2,1131.5 1403.7,1120.7 1404.1,1039.7 1404.6,1143.0 1405.1,1076.5 1405.6,1120.7 1406.0,1088.4 1406.5,1131.5 1407.0,1110.7 1407.4,1092.6 1407.9,1106.0 1408.4,1088.4 1408.8,1048.9 1409.3,1126.0 1409.8,1062.0 1410.2,1065.5 1410.7,1131.5 1411.2,1065.5 1411.6,1080.4 1412.1,1101.4 1412.6,1072.8 1413.1,1069.1 1413.5,1055.3 1414.0,1069.1 1414.5,1115.6 1414.9,1162.4 1415.4,1162.4 1415.9,1076.5 1416.3,1080.4 1416.8,1106.0 1417.3,1162.4 1417.7,1065.5 1418.2,1106.0 1418.7,1131.5 1419.1,1062.0 1419.6,1149.2 1420.1,1052.1 1420.6,1143.0 1421.0,1192.9 1421.5,1110.7 1422.0,1120.7 1422.4,1065.5 1422.9,1126.0 1423.4,1088.4 1423.8,1088.4 1424.3,1115.6 1424.8,1137.1 1425.2,1120.7 1425.7,1120.7 1426.2,1036.8 1426.6,1131.5 1427.1,1131.5 1427.6,1076.5 1428.1,1143.0 1428.5,1106.0 1429.0,1088.4 1429.5,1131.5 1429.9,1101.4 1430.4,1088.4 1430.9,1110.7 1431.3,1080.4 1431.8,1106.0 1432.3,1076.5 1432.7,1115.6 1433.2,1131.5 1433.7,1076.5 1434.1,1055.3 1434.6,1169.4 1435.1,1137.1 1435.6,1106.0 1436.0,1106.0 1436.5,1062.0 1437.0,1020.4 1437.4,1084.4 1437.9,1069.1 1438.4,1155.6 1438.8,1155.6 1439.3,1092.6 1439.8,1120.7 1440.2,1101.4 1440.7,1115.6 1441.2,1084.4 1441.6,1131.5 1442.1,1065.5 1442.6,1101.4 1443.1,1155.6 1443.5,1096.9 1444.0,1092.6 1444.5,1192.9 1444.9,1143.0 1445.4,1137.1 1445.9,1110.7 1446.3,1080.4 1446.8,1106.0 1447.3,1143.0 1447.7,1131.5 1448.2,1092.6 1448.7,1143.0 1449.1,1065.5 1449.6,1120.7 1450.1,1092.6 1450.6,1096.9 1451.0,1076.5 1451.5,1137.1 1452.0,1131.5 1452.4,1192.9 1452.9,1096.9 1453.4,1110.7 1453.8,1126.0 1454.3,1106.0 1454.8,1155.6 1455.2,1110.7 1455.7,1120.7 1456.2,1092.6 1456.6,1069.1 1457.1,1062.0 1457.6,1115.6 1458.1,1110.7 1458.5,1192.9 1459.0,1101.4 1459.5,1131.5 1459.9,1120.7 1460.4,1120.7 1460.9,1143.0 1461.3,1192.9 1461.8,1120.7 1462.3,1120.7 1462.7,1143.0 1463.2,1162.4 1463.7,1106.0 1464.1,1106.0 1464.6,1149.2 1465.1,1221.0 1465.6,1101.4 1466.0,1131.5 1466.5,1115.6 1467.0,1084.4 1467.4,1115.6 1467.9,1155.6 1468.4,1211.1 1468.8,1143.0 1469.3,1110.7 1469.8,1069.1 1470.2,1143.0 1470.7,1211.1 1471.2,1120.7 1471.6,1106.0 1472.1,1110.7 1472.6,1033.9 1473.1,1120.7 1473.5,1106.0 1474.0,1115.6 1474.5,1131.5 1474.9,1137.1 1475.4,1120.7 1475.9,1080.4 1476.3,1126.0 1476.8,1115.6 1477.3,1126.0 1477.7,1092.6 1478.2,1120.7 1478.7,1126.0 1479.1,1076.5 1479.6,1072.8 1480.1,1092.6 1480.6,1115.6 1481.0,1120.7 1481.5,1143.0 1482.0,1065.5 1482.4,1101.4 1482.9,1033.9 1483.4,1110.7 1483.8,1143.0 1484.3,1080.4 1484.8,1162.4 1485.2,1080.4 1485.7,1101.4 1486.2,1101.4 1486.7,1155.6 1487.1,1092.6 1487.6,1162.4 1488.1,1143.0 1488.5,1055.3 1489.0,1155.6 1489.5,1092.6 1489.9,1243.4 1490.4,1106.0 1490.9,1131.5 1491.3,1088.4 1491.8,1092.6 1492.3,1149.2 1492.7,1149.2 1493.2,1162.4 1493.7,1080.4 1494.2,1162.4 1494.6,1143.0 1495.1,1120.7 1495.6,1269.7 1496.0,1110.7 1496.5,1084.4 1497.0,1065.5 1497.4,1126.0 1497.9,1065.5 1498.4,1155.6 1498.8,1137.1 1499.3,1084.4 1499.8,1126.0 1500.2,1055.3 1500.7,1162.4 1501.2,1162.4 1501.7,1096.9 1502.1,1062.0 1502.6,1080.4 1503.1,1162.4 1503.5,1088.4 1504.0,1184.7 1504.5,1162.4 1504.9,1020.4 1505.4,1131.5 1505.9,1062.0 1506.3,1176.8 1506.8,1155.6 1507.3,1115.6 1507.7,1184.7 1508.2,1143.0 1508.7,1062.0 1509.2,1192.9 1509.6,1131.5 1510.1,1120.7 1510.6,1096.9 1511.0,1201.7 1511.5,1058.6 1512.0,1101.4 1512.4,1162.4 1512.9,1036.8 1513.4,1221.0 1513.8,1137.1 1514.3,1115.6 1514.8,1126.0 1515.2,1126.0 1515.7,1069.1 1516.2,1065.5 1516.7,1192.9 1517.1,1106.0 1517.6,1080.4 1518.1,1115.6 1518.5,1149.2 1519.0,1110.7 1519.5,1231.8 1519.9,1131.5 1520.4,1143.0 1520.9,1080.4 1521.3,1110.7 1521.8,1106.0 1522.3,1143.0 1522.7,1106.0 1523.2,1058.6 1523.7,1062.0 1524.2,1055.3 1524.6,1126.0 1525.1,1143.0 1525.6,1096.9 1526.0,1184.7 1526.5,1221.0 1527.0,1055.3 1527.4,1137.1 1527.9,1143.0 1528.4,1096.9 1528.8,1162.4 1529.3,1076.5 1529.8,1084.4 1530.2,1072.8 1530.7,1115.6 1531.2,1192.9 1531.7,1115.6 1532.1,1088.4 1532.6,1096.9 1533.1,1096.9 1533.5,1092.6 1534.0,1058.6 1534.5,1110.7 1534.9,1137.1 1535.4,1033.9 1535.9,1092.6 1536.3,1120.7 1536.8,1101.4 1537.3,1101.4 1537.7,1110.7 1538.2,1076.5 1538.7,1169.4 1539.2,1120.7 1539.6,1126.0 1540.1,1028.4 1540.6,1155.6 1541.0,1131.5 1541.5,1162.4 1542.0,1110.7 1542.4,1058.6 1542.9,1162.4 1543.4,1120.7 1543.8,1096.9 1544.3,1092.6 1544.8,1069.1 1545.2,1106.0 1545.7,1176.8 1546.2,1101.4 1546.7,1101.4 1547.1,1058.6 1547.6,1088.4 1548.1,1143.0 1548.5,1155.6 1549.0,1184.7 1549.5,1096.9 1549.9,1106.0 1550.4,1143.0 1550.9,1115.6 1551.3,1101.4 1551.8,1115.6 1552.3,1131.5 1552.7,1126.0 1553.2,1143.0 1553.7,1126.0 1554.2,1092.6 1554.6,1092.6 1555.1,1110.7 1555.6,1106.0 1556.0,1115.6 1556.5,1221.0 1557.0,1048.9 1557.4,1169.4 1557.9,1072.8 1558.4,1084.4 1558.8,1101.4 1559.3,1211.1 1559.8,1088.4 1560.2,1106.0 1560.7,1169.4 1561.2,1131.5 1561.7,1176.8 1562.1,1096.9 1562.6,1092.6 1563.1,1115.6 1563.5,1080.4 1564.0,1184.7 1564.5,1149.2 1564.9,1143.0 1565.4,1143.0 1565.9,1155.6 1566.3,1080.4 1566.8,1126.0 1567.3,1084.4 1567.7,1155.6 1568.2,1110.7 1568.7,1184.7 1569.2,1155.6 1569.6,1015.3 1570.1,1126.0 1570.6,1155.6 1571.0,1192.9 1571.5,1106.0 1572.0,1149.2 1572.4,1211.1 1572.9,1126.0 1573.4,1201.7 1573.8,1176.8 1574.3,1080.4 1574.8,1162.4 1575.2,1069.1 1575.7,1169.4 1576.2,1110.7 1576.7,1058.6 1577.1,1084.4 1577.6,1137.1 1578.1,1110.7 1578.5,1115.6 1579.0,1176.8 1579.5,1080.4 1579.9,1126.0 1580.4,1106.0 1580.9,1149.2 1581.3,1143.0 1581.8,1092.6 1582.3,1126.0 1582.7,1120.7 1583.2,1076.5 1583.7,1120.7 1584.2,1131.5 1584.6,1126.0 1585.1,1155.6 1585.6,1080.4 1586.0,1080.4 1586.5,1137.1 1587.0,1120.7 1587.4,1143.0 1587.9,1169.4 1588.4,1080.4 1588.8,1155.6 1589.3,1162.4 1589.8,1096.9 1590.3,1149.2 1590.7,1302.0 1591.2,1192.9 1591.7,1131.5 1592.1,1131.5 1592.6,1131.5 1593.1,1120.7 1593.5,1084.4 1594.0,1184.7 1594.5,1088.4 1594.9,1162.4 1595.4,1184.7 1595.9,1088.4 1596.3,1221.0 1596.8,1115.6 1597.3,1137.1 1597.8,1126.0 1598.2,1192.9 1598.7,1201.7 1599.2,1155.6 1599.6,1096.9 1600.1,1058.6 1600.6,1155.6 1601.0,1084.4 1601.5,1106.0 1602.0,1065.5 1602.4,1115.6 1602.9,1162.4 1603.4,1110.7 1603.8,1096.9 1604.3,1120.7 1604.8,1031.1 1605.3,1084.4 1605.7,1110.7 1606.2,1120.7 1606.7,1106.0 1607.1,1201.7 1607.6,1176.8 1608.1,1192.9 1608.5,1149.2 1609.0,1115.6 1609.5,1162.4 1609.9,1092.6 1610.4,1176.8 1610.9,1115.6 1611.3,1120.7 1611.8,1126.0 1612.3,1184.7 1612.8,1143.0 1613.2,1149.2 1613.7,1126.0 1614.2,1221.0 1614.6,1211.1 1615.1,1126.0 1615.6,1184.7 1616.0,1149.2 1616.5,1137.1 1617.0,1221.0 1617.4,1101.4 1617.9,1162.4 1618.4,1155.6 1618.8,1137.1 1619.3,1176.8 1619.8,1120.7 1620.3,1169.4 1620.7,1065.5 1621.2,1162.4 1621.7,1120.7 1622.1,1143.0 1622.6,1120.7 1623.1,1080.4 1623.5,1143.0 1624.0,1092.6 1624.5,1131.5 1624.9,1106.0 1625.4,1131.5 1625.9,1176.8 1626.3,1017.8 1626.8,1120.7 1627.3,1126.0 1627.8,1243.4 1628.2,1176.8 1628.7,1092.6 1629.2,1088.4 1629.6,1143.0 1630.1,1131.5 1630.6,1069.1 1631.0,1169.4 1631.5,1137.1 1632.0,1017.8 1632.4,1110.7 1632.9,1176.8 1633.4,1169.4 1633.8,1131.5 1634.3,1169.4 1634.8,1084.4 1635.3,1169.4 1635.7,1231.8 1636.2,1155.6 1636.7,1120.7 1637.1,1149.2 1637.6,1137.1 1638.1,1115.6 1638.5,1169.4 1639.0,1201.7 1639.5,1184.7 1639.9,1092.6 1640.4,1137.1 1640.9,1088.4 1641.3,1115.6 1641.8,1088.4 1642.3,1092.6 1642.8,1184.7 1643.2,1126.0 1643.7,1176.8 1644.2,1126.0 1644.6,1169.4 1645.1,1110.7 1645.6,1149.2 1646.0,1162.4 1646.5,1131.5 1647.0,1143.0 1647.4,1169.4 1647.9,1131.5 1648.4,1088.4 1648.8,1076.5 1649.3,1110.7 1649.8,1101.4 1650.3,1149.2 1650.7,1055.3 1651.2,1115.6 1651.7,1285.0 1652.1,1169.4 1652.6,1149.2 1653.1,1162.4 1653.5,1184.7 1654.0,1149.2 1654.5,1169.4 1654.9,1120.7 1655.4,1302.0 1655.9,1110.7 1656.3,1302.0 1656.8,1169.4 1657.3,1221.0 1657.8,1084.4 1658.2,1088.4 1658.7,1137.1 1659.2,1162.4 1659.6,1162.4 1660.1,1115.6 1660.6,1201.7 1661.0,1176.8 1661.5,1120.7 1662.0,1243.4 1662.4,1120.7 1662.9,1169.4 1663.4,1255.9 1663.8,1106.0 1664.3,1069.1 1664.8,1126.0 1665.3,1143.0 1665.7,1110.7 1666.2,1143.0 1666.7,1162.4 1667.1,1192.9 1667.6,1137.1 1668.1,1076.5 1668.5,1126.0 1669.0,1042.7 1669.5,1243.4 1669.9,1110.7 1670.4,1110.7 1670.9,1137.1 1671.3,1211.1 1671.8,1110.7 1672.3,1192.9 1672.8,1149.2 1673.2,1176.8 1673.7,1221.0 1674.2,1110.7 1674.6,1176.8 1675.1,1169.4 1675.6,1143.0 1676.0,1155.6 1676.5,1155.6 1677.0,1162.4 1677.4,1255.9 1677.9,1149.2 1678.4,1143.0 1678.8,1106.0 1679.3,1101.4 1679.8,1143.0 1680.3,1101.4 1680.7,1169.4 1681.2,1101.4 1681.7,1110.7 1682.1,1184.7 1682.6,1076.5 1683.1,1192.9 1683.5,1169.4 1684.0,1231.8 1684.5,1192.9 1684.9,1120.7 1685.4,1162.4 1685.9,1184.7 1686.4,1143.0 1686.8,1048.9 1687.3,1143.0 1687.8,1176.8 1688.2,1169.4 1688.7,1176.8 1689.2,1131.5 1689.6,1115.6 1690.1,1143.0 1690.6,1302.0 1691.0,1285.0 1691.5,1101.4 1692.0,1201.7 1692.4,1149.2 1692.9,1115.6 1693.4,1120.7 1693.9,1162.4 1694.3,1076.5 1694.8,1096.9 1695.3,1211.1 1695.7,1162.4 1696.2,1169.4 1696.7,1092.6 1697.1,1088.4 1697.6,1110.7 1698.1,1169.4 1698.5,1115.6 1699.0,1192.9 1699.5,1162.4 1699.9,1184.7 1700.4,1101.4 1700.9,1131.5 1701.4,1062.0 1701.8,1192.9 1702.3,1076.5 1702.8,1126.0 1703.2,1162.4 1703.7,1110.7 1704.2,1211.1 1704.6,1169.4 1705.1,1169.4 1705.6,1120.7 1706.0,1084.4 1706.5,1176.8 1707.0,1143.0 1707.4,1211.1 1707.9,1143.0 1708.4,1255.9 1708.9,1149.2 1709.3,1192.9 1709.8,1137.1 1710.3,1201.7 1710.7,1169.4 1711.2,1110.7 1711.7,1115.6 1712.1,1149.2 1712.6,1008.0 1713.1,1192.9 1713.5,1096.9 1714.0,1084.4 1714.5,1184.7 1714.9,1162.4 1715.4,1065.5 1715.9,1096.9 1716.4,1243.4 1716.8,1176.8 1717.3,1192.9 1717.8,1088.4 1718.2,1201.7 1718.7,1101.4 1719.2,1143.0 1719.6,1162.4 1720.1,1155.6 1720.6,1243.4 1721.0,1176.8 1721.5,1149.2 1722.0,1169.4 1722.4,1110.7 1722.9,1176.8 1723.4,1269.7 1723.9,1065.5 1724.3,1143.0 1724.8,1143.0 1725.3,1137.1 1725.7,984.0 1726.2,1055.3 1726.7,1201.7 1727.1,1115.6 1727.6,1169.4 1728.1,1184.7 1728.5,1143.0 1729.0,1169.4 1729.5,1131.5 1729.9,1176.8 1730.4,1162.4 1730.9,1084.4 1731.4,1184.7 1731.8,1149.2 1732.3,1084.4 1732.8,1162.4 1733.2,1269.7 1733.7,1096.9 1734.2,1192.9 1734.6,1096.9 1735.1,1184.7 1735.6,1201.7 1736.0,1184.7 1736.5,1137.1 1737.0,1211.1 1737.4,1080.4 1737.9,1115.6 1738.4,1231.8 1738.9,1162.4 1739.3,1106.0 1739.8,1201.7 1740.3,1211.1 1740.7,1036.8 1741.2,1370.1 1741.7,1201.7 1742.1,1101.4 1742.6,1115.6 1743.1,1115.6 1743.5,1115.6 1744.0,1201.7 1744.5,1155.6 1744.9,1201.7 1745.4,1149.2 1745.9,1155.6 1746.4,1169.4 1746.8,1343.7 1747.3,1169.4 1747.8,1106.0 1748.2,1184.7 1748.7,1221.0 1749.2,1096.9 1749.6,1120.7 1750.1,1243.4 1750.6,1155.6 1751.0,1169.4 1751.5,1221.0 1752.0,1169.4 1752.4,1149.2 1752.9,1201.7 1753.4,1084.4 1753.9,1221.0 1754.3,1033.9 1754.8,1131.5 1755.3,1155.6 1755.7,1243.4 1756.2,1211.1 1756.7,1192.9 1757.1,1149.2 1757.6,1137.1 1758.1,1120.7 1758.5,1155.6 1759.0,1269.7 1759.5,1084.4 1759.9,1137.1 1760.4,1126.0 1760.9,1120.7 1761.4,1162.4 1761.8,1126.0 1762.3,1131.5 1762.8,1137.1 1763.2,1169.4 1763.7,1143.0 1764.2,1131.5 1764.6,1126.0 1765.1,1115.6 1765.6,1221.0 1766.0,1243.4 1766.5,1184.7 1767.0,1211.1 1767.4,1149.2 1767.9,1243.4 1768.4,1176.8 1768.9,1231.8 1769.3,1176.8 1769.8,1302.0 1770.3,1137.1 1770.7,1143.0 1771.2,1231.8 1771.7,1149.2 1772.1,1155.6 1772.6,1137.1 1773.1,1231.8 1773.5,1110.7 1774.0,1015.3 1774.5,1115.6 1774.9,1115.6 1775.4,1069.1 1775.9,1162.4 1776.4,1231.8 1776.8,1162.4 1777.3,1115.6 1777.8,1120.7 1778.2,1162.4 1778.7,1201.7 1779.2,1131.5 1779.6,1039.7 1780.1,1221.0 1780.6,1201.7 1781.0,1231.8 1781.5,1176.8 1782.0,1092.6 1782.5,1120.7 1782.9,1176.8 1783.4,1115.6 1783.9,1149.2 1784.3,1143.0 1784.8,1110.7 1785.3,1176.8 1785.7,1184.7 1786.2,1131.5 1786.7,1149.2 1787.1,1115.6 1787.6,1162.4 1788.1,1162.4 1788.5,1184.7 1789.0,1088.4 1789.5,1115.6 1790.0,1192.9 1790.4,1176.8 1790.9,1137.1 1791.4,1065.5 1791.8,1155.6 1792.3,1137.1 1792.8,1201.7 1793.2,1062.0 1793.7,1176.8 1794.2,1302.0 1794.6,1143.0 1795.1,1169.4 1795.6,1076.5 1796.0,1143.0 1796.5,1192.9 1797.0,1176.8 1797.5,1092.6 1797.9,1169.4 1798.4,1269.7 1798.9,1192.9 1799.3,1192.9 1799.8,1192.9 1800.3,1221.0 1800.7,1169.4 1801.2,1176.8 1801.7,1126.0 1802.1,1162.4 1802.6,1176.8 1803.1,1162.4 1803.5,1184.7 1804.0,1243.4 1804.5,1221.0 1805.0,1149.2 1805.4,1084.4 1805.9,1221.0 1806.4,1155.6 1806.8,1131.5 1807.3,1192.9 1807.8,1137.1 1808.2,1106.0 1808.7,1243.4 1809.2,1096.9 1809.6,1143.0 1810.1,1184.7 1810.6,1115.6 1811.0,1243.4 1811.5,1176.8 1812.0,1137.1 1812.5,1115.6 1812.9,1169.4 1813.4,1192.9 1813.9,1137.1 1814.3,1115.6 1814.8,1143.0 1815.3,1162.4 1815.7,1201.7 1816.2,1192.9 1816.7,1131.5 1817.1,1302.0 1817.6,1192.9 1818.1,1115.6 1818.5,1169.4 1819.0,1106.0 1819.5,1211.1 1820.0,1176.8 1820.4,1184.7 1820.9,1243.4 1821.4,1131.5 1821.8,1269.7 1822.3,1162.4 1822.8,1137.1 1823.2,1184.7 1823.7,1065.5 1824.2,1143.0 1824.6,1126.0 1825.1,1143.0 1825.6,1143.0 1826.0,1137.1 1826.5,1176.8 1827.0,1080.4 1827.5,1162.4 1827.9,1184.7 1828.4,1143.0 1828.9,1084.4 1829.3,1131.5 1829.8,1192.9 1830.3,1096.9 1830.7,1137.1 1831.2,1155.6 1831.7,1192.9 1832.1,1321.4 1832.6,1221.0 1833.1,1370.1 1833.5,1192.9 1834.0,1221.0 1834.5,1269.7 1835.0,1120.7 1835.4,1143.0 1835.9,1131.5 1836.4,1269.7 1836.8,1169.4 1837.3,1155.6 1837.8,1155.6 1838.2,1155.6 1838.7,1076.5 1839.2,1169.4 1839.6,1221.0 1840.1,1201.7 1840.6,1243.4 1841.0,1131.5 1841.5,1149.2 1842.0,1155.6 1842.5,1120.7 1842.9,1192.9 1843.4,1176.8 1843.9,1201.7 1844.3,1192.9 1844.8,1184.7 1845.3,1192.9 1845.7,1201.7 1846.2,1155.6 1846.7,1176.8 1847.1,1106.0 1847.6,1126.0 1848.1,1169.4 1848.5,1370.1 1849.0,1231.8 1849.5,1184.7 1850.0,1169.4 1850.4,1211.1 1850.9,1211.1 1851.4,1192.9 1851.8,1023.0 1852.3,1126.0 1852.8,1126.0 1853.2,1137.1 1853.7,1192.9 1854.2,1176.8 1854.6,1120.7 1855.1,1184.7 1855.6,1184.7 1856.0,1092.6 1856.5,1211.1 1857.0,1149.2 1857.5,1211.1 1857.9,1149.2 1858.4,1184.7 1858.9,1143.0 1859.3,1115.6 1859.8,1231.8 1860.3,1162.4 1860.7,1285.0 1861.2,1110.7 1861.7,1221.0 1862.1,1137.1 1862.6,1126.0 1863.1,1155.6 1863.5,1045.8 1864.0,1176.8 1864.5,1169.4 1865.0,1255.9 1865.4,1115.6 1865.9,1211.1 1866.4,1176.8 1866.8,1201.7 1867.3,1069.1 1867.8,1169.4 1868.2,1162.4 1868.7,1302.0 1869.2,1131.5 1869.6,1155.6 1870.1,1243.4 1870.6,1211.1 1871.0,1162.4 1871.5,1221.0 1872.0,1201.7 1872.5,1184.7 1872.9,1120.7 1873.4,1192.9 1873.9,1184.7 1874.3,1221.0 1874.8,1192.9 1875.3,1221.0 1875.7,1115.6 1876.2,1201.7 1876.7,1162.4 1877.1,1243.4 1877.6,1155.6 1878.1,1285.0 1878.6,1243.4 1879.0,1092.6 1879.5,1092.6 1880.0,1231.8 1880.4,1137.1 1880.9,1211.1 1881.4,1176.8 1881.8,1176.8 1882.3,1402.4 1882.8,1149.2 1883.2,1162.4 1883.7,1221.0 1884.2,1155.6 1884.6,1221.0 1885.1,1192.9 1885.6,1231.8 1886.1,1028.4 1886.5,1072.8 1887.0,1302.0 1887.5,1126.0 1887.9,1192.9 1888.4,1221.0 1888.9,1048.9 1889.3,1149.2 1889.8,1285.0 1890.3,1120.7 1890.7,1126.0 1891.2,1184.7 1891.7,992.3 1892.1,1269.7 1892.6,1096.9 1893.1,1149.2 1893.6,1162.4 1894.0,1137.1 1894.5,1184.7 1895.0,1169.4 1895.4,1169.4 1895.9,1169.4 1896.4,1221.0 1896.8,1169.4 1897.3,1110.7 1897.8,1285.0 1898.2,1131.5 1898.7,1120.7 1899.2,1255.9 1899.6,1176.8 1900.1,1176.8 1900.6,1231.8 1901.1,1155.6 1901.5,1184.7 1902.0,1302.0 1902.5,1137.1 1902.9,1126.0 1903.4,1192.9 1903.9,1201.7 1904.3,1269.7 1904.8,1269.7 1905.3,1269.7 1905.7,1221.0 1906.2,1131.5 1906.7,1149.2 1907.1,1106.0 1907.6,1243.4 1908.1,1321.4 1908.6,1084.4 1909.0,1131.5 1909.5,1211.1 1910.0,1126.0 1910.4,1162.4 1910.9,1201.7 1911.4,1255.9 1911.8,1062.0 1912.3,1137.1 1912.8,1231.8 1913.2,1302.0 1913.7,1269.7 1914.2,1343.7 1914.6,1243.4 1915.1,1137.1 1915.6,1231.8 1916.1,1231.8 1916.5,1120.7 1917.0,1131.5 1917.5,1131.5 1917.9,1231.8 1918.4,1176.8 1918.9,1155.6 1919.3,1211.1 1919.8,1321.4 1920.3,1162.4 1920.7,1048.9 1921.2,1231.8 1921.7,1302.0 1922.1,1131.5 1922.6,1255.9 1923.1,1143.0 1923.6,1201.7 1924.0,1211.1 1924.5,1192.9 1925.0,1076.5 1925.4,1302.0 1925.9,1149.2 1926.4,1221.0 1926.8,1192.9 1927.3,1155.6 1927.8,1143.0 1928.2,1211.1 1928.7,1243.4 1929.2,1184.7 1929.6,1155.6 1930.1,1176.8 1930.6,1231.8 1931.1,1221.0 1931.5,1169.4 1932.0,1243.4 1932.5,1211.1 1932.9,1221.0 1933.4,1184.7 1933.9,1169.4 1934.3,1231.8 1934.8,1211.1 1935.3,1143.0 1935.7,1255.9 1936.2,1020.4 1936.7,1221.0 1937.1,1120.7 1937.6,1126.0 1938.1,1192.9 1938.6,1201.7 1939.0,1137.1 1939.5,1120.7 1940.0,1192.9 1940.4,1184.7 1940.9,1302.0 1941.4,1231.8 1941.8,1231.8 1942.3,1058.6 1942.8,1184.7 1943.2,1176.8 1943.7,1269.7 1944.2,1370.1 1944.6,1444.0 1945.1,1120.7 1945.6,1502.7 1946.1,1192.9 1946.5,1184.7 1947.0,1176.8 1947.5,1120.7 1947.9,1155.6 1948.4,1088.4 1948.9,1162.4 1949.3,1162.4 1949.8,1243.4 1950.3,1243.4 1950.7,1155.6 1951.2,1155.6 1951.7,1269.7 1952.1,1192.9 1952.6,1221.0 1953.1,1162.4 1953.6,1302.0 1954.0,1162.4 1954.5,1162.4 1955.0,1201.7 1955.4,1302.0 1955.9,1192.9 1956.4,1184.7 1956.8,1115.6 1957.3,1184.7 1957.8,1126.0 1958.2,1155.6 1958.7,1211.1 1959.2,1211.1 1959.6,1231.8 1960.1,1092.6 1960.6,1115.6 1961.1,1211.1 1961.5,1370.1 1962.0,1155.6 1962.5,1155.6 1962.9,1169.4 1963.4,1231.8 1963.9,1243.4 1964.3,1444.0 1964.8,1162.4 1965.3,1192.9 1965.7,1221.0 1966.2,1231.8 1966.7,1243.4 1967.1,1192.9 1967.6,1243.4 1968.1,1192.9 1968.6,1269.7 1969.0,1285.0 1969.5,1184.7 1970.0,1106.0 1970.4,1143.0 1970.9,1285.0 1971.4,1192.9 1971.8,1162.4 1972.3,1302.0 1972.8,1169.4 1973.2,1231.8 1973.7,1106.0 1974.2,1162.4 1974.6,1243.4 1975.1,1192.9 1975.6,1176.8 1976.1,1184.7 1976.5,1255.9 1977.0,1155.6 1977.5,1243.4 1977.9,1184.7 1978.4,1211.1 1978.9,1115.6 1979.3,1255.9 1979.8,1149.2 1980.3,1045.8 1980.7,1231.8 1981.2,1131.5 1981.7,1243.4 1982.2,1370.1 1982.6,1184.7 1983.1,1192.9 1983.6,1149.2 1984.0,1201.7 1984.5,1243.4 1985.0,1221.0 1985.4,1269.7 1985.9,1155.6 1986.4,1155.6 1986.8,1176.8 1987.3,1343.7 1987.8,1169.4 1988.2,1221.0 1988.7,1176.8 1989.2,1192.9 1989.7,1155.6 1990.1,1155.6 1990.6,1321.4 1991.1,1184.7 1991.5,1149.2 1992.0,1285.0 1992.5,1243.4 1992.9,1201.7 1993.4,1131.5 1993.9,1211.1 1994.3,1184.7 1994.8,1126.0 1995.3,1211.1 1995.7,1126.0 1996.2,1155.6 1996.7,1192.9 1997.2,1221.0 1997.6,1243.4 1998.1,1184.7 1998.6,1211.1 1999.0,1184.7 1999.5,1201.7 2000.0,1110.7 2000.4,1106.0 2000.9,1211.1 2001.4,1255.9 2001.8,1343.7 2002.3,1243.4 2002.8,1143.0 2003.2,1192.9 2003.7,1231.8 2004.2,1192.9 2004.7,1176.8 2005.1,1176.8 2005.6,1201.7 2006.1,1176.8 2006.5,1211.1 2007.0,1192.9 2007.5,1149.2 2007.9,1176.8 2008.4,1255.9 2008.9,1243.4 2009.3,1072.8 2009.8,1201.7 2010.3,1137.1 2010.7,1120.7 2011.2,1169.4 2011.7,1221.0 2012.2,1131.5 2012.6,1192.9 2013.1,1092.6 2013.6,992.3 2014.0,1115.6 2014.5,1192.9 2015.0,1162.4 2015.4,1211.1 2015.9,1096.9 2016.4,1192.9 2016.8,1231.8 2017.3,1192.9 2017.8,1243.4 2018.2,1221.0 2018.7,1176.8 2019.2,1211.1 2019.7,1201.7 2020.1,1162.4 2020.6,1143.0 2021.1,1192.9 2021.5,1176.8 2022.0,1169.4 2022.5,1231.8 2022.9,1169.4 2023.4,1321.4 2023.9,1201.7 2024.3,1201.7 2024.8,1155.6 2025.3,1155.6 2025.7,1184.7 2026.2,1211.1 2026.7,1192.9 2027.2,1149.2 2027.6,1155.6 2028.1,1169.4 2028.6,1269.7 2029.0,1285.0 2029.5,1285.0 2030.0,1231.8 2030.4,1211.1 2030.9,1211.1 2031.4,1101.4 2031.8,1106.0 2032.3,1162.4 2032.8,1211.1 2033.2,1321.4 2033.7,1169.4 2034.2,1169.4 2034.7,1192.9 2035.1,1115.6 2035.6,1221.0 2036.1,1221.0 2036.5,1192.9 2037.0,1155.6 2037.5,1285.0 2037.9,1184.7 2038.4,1155.6 2038.9,1201.7 2039.3,1120.7 2039.8,1169.4 2040.3,1176.8 2040.7,1149.2 2041.2,1231.8 2041.7,1106.0 2042.2,1176.8 2042.6,1131.5 2043.1,1192.9 2043.6,1149.2 2044.0,1302.0 2044.5,1192.9 2045.0,1231.8 2045.4,1176.8 2045.9,1201.7 2046.4,1255.9 2046.8,1201.7 2047.3,1184.7 2047.8,1162.4 2048.2,1231.8 2048.7,1149.2 2049.2,1149.2 2049.7,1211.1 2050.1,1101.4 2050.6,1131.5 2051.1,1243.4 2051.5,1184.7 2052.0,1201.7 2052.5,1162.4 2052.9,1201.7 2053.4,1192.9 2053.9,1080.4 2054.3,1062.0 2054.8,1255.9 2055.3,1211.1 2055.7,1155.6 2056.2,1192.9 2056.7,1269.7 2057.2,1285.0 2057.6,1184.7 2058.1,1402.4 2058.6,1221.0 2059.0,1231.8 2059.5,1255.9 2060.0,1110.7 2060.4,1169.4 2060.9,1065.5 2061.4,1269.7 2061.8,1211.1 2062.3,1302.0 2062.8,1201.7 2063.2,1211.1 2063.7,1184.7 2064.2,1155.6 2064.7,1169.4 2065.1,1092.6 2065.6,1221.0 2066.1,1149.2 2066.5,1201.7 2067.0,1149.2 2067.5,1192.9 2067.9,1155.6 2068.4,1131.5 2068.9,1201.7 2069.3,1184.7 2069.8,1137.1 2070.3,1192.9 2070.7,1201.7 2071.2,1192.9 2071.7,1231.8 2072.2,1120.7 2072.6,1192.9 2073.1,1221.0 2073.6,1285.0 2074.0,1444.0 2074.5,1243.4 2075.0,1137.1 2075.4,1110.7 2075.9,1169.4 2076.4,1101.4 2076.8,1155.6 2077.3,1211.1 2077.8,1221.0 2078.3,1149.2 2078.7,1221.0 2079.2,1106.0 2079.7,1062.0 2080.1,1370.1 2080.6,1269.7 2081.1,1149.2 2081.5,1201.7 2082.0,1162.4 2082.5,1221.0 2082.9,1255.9 2083.4,1302.0 2083.9,1176.8 2084.3,1149.2 2084.8,1143.0 2085.3,1137.1 2085.8,1143.0 2086.2,1211.1 2086.7,1285.0 2087.2,1221.0 2087.6,1143.0 2088.1,1221.0 2088.6,1221.0 2089.0,1201.7 2089.5,1231.8 2090.0,1243.4 2090.4,1192.9 2090.9,1169.4 2091.4,1269.7 2091.8,1302.0 2092.3,1221.0 2092.8,1169.4 2093.3,1285.0 2093.7,1126.0 2094.2,1096.9 2094.7,1243.4 2095.1,1211.1 2095.6,1243.4 2096.1,1137.1 2096.5,1243.4 2097.0,1137.1 2097.5,1184.7 2097.9,1321.4 2098.4,1201.7 2098.9,1201.7 2099.3,1231.8 2099.8,1143.0 2100.3,1221.0 2100.8,1110.7 2101.2,1221.0 2101.7,1155.6 2102.2,1201.7 2102.6,1343.7 2103.1,1162.4 2103.6,1285.0 2104.0,1201.7 2104.5,1231.8 2105.0,1231.8 2105.4,1184.7 2105.9,1176.8 2106.4,1231.8 2106.8,1231.8 2107.3,1243.4 2107.8,1201.7 2108.3,1120.7 2108.7,1255.9 2109.2,1243.4 2109.7,1084.4 2110.1,1176.8 2110.6,1302.0 2111.1,1231.8 2111.5,1321.4 2112.0,1269.7 2112.5,1192.9 2112.9,1080.4 2113.4,1269.7 2113.9,1211.1 2114.3,1211.1 2114.8,1302.0 2115.3,1126.0 2115.8,1243.4 2116.2,1255.9 2116.7,1231.8 2117.2,1231.8 2117.6,1162.4 2118.1,1176.8 2118.6,1231.8 2119.0,1176.8 2119.5,1184.7 2120.0,1321.4 2120.4,1184.7 2120.9,1192.9 2121.4,1155.6 2121.8,1131.5 2122.3,1115.6 2122.8,1192.9 2123.3,1169.4 2123.7,1192.9 2124.2,1201.7 2124.7,1211.1 2125.1,1302.0 2125.6,1285.0 2126.1,1184.7 2126.5,1243.4 2127.0,1201.7 2127.5,1231.8 2127.9,1201.7 2128.4,1444.0 2128.9,1221.0 2129.3,1201.7 2129.8,1255.9 2130.3,1176.8 2130.8,1169.4 2131.2,1155.6 2131.7,1255.9 2132.2,1269.7 2132.6,1302.0 2133.1,1176.8 2133.6,1155.6 2134.0,1162.4 2134.5,1176.8 2135.0,1143.0 2135.4,1211.1 2135.9,1370.1 2136.4,1184.7 2136.8,1221.0 2137.3,1444.0 2137.8,1231.8 2138.3,1255.9 2138.7,1137.1 2139.2,1243.4 2139.7,1231.8 2140.1,1169.4 2140.6,1115.6 2141.1,1052.1 2141.5,1231.8 2142.0,1162.4 2142.5,1176.8 2142.9,1211.1 2143.4,1285.0 2143.9,1221.0 2144.3,1201.7 2144.8,1155.6 2145.3,1162.4 2145.8,1155.6 2146.2,1176.8 2146.7,1201.7 2147.2,1201.7 2147.6,1269.7 2148.1,1201.7 2148.6,1243.4 2149.0,1231.8 2149.5,1169.4 2150.0,1201.7 2150.4,1184.7 2150.9,1243.4 2151.4,1211.1 2151.8,1137.1 2152.3,1162.4 2152.8,1231.8 2153.3,1269.7 2153.7,1080.4 2154.2,1155.6 2154.7,1192.9 2155.1,1211.1 2155.6,1162.4 2156.1,1221.0 2156.5,1176.8 2157.0,1192.9 2157.5,1269.7 2157.9,1184.7 2158.4,1169.4 2158.9,1184.7 2159.3,1192.9 2159.8,1088.4 2160.3,1149.2 2160.8,1176.8 2161.2,1149.2 2161.7,1184.7 2162.2,1137.1 2162.6,1269.7 2163.1,1502.7 2163.6,1255.9 2164.0,1176.8 2164.5,1192.9 2165.0,1184.7 2165.4,1169.4 2165.9,1176.8 2166.4,1444.0 2166.8,1255.9 2167.3,1192.9 2167.8,1201.7 2168.3,1231.8 2168.7,1211.1 2169.2,1192.9 2169.7,1137.1 2170.1,1192.9 2170.6,1269.7 2171.1,1243.4 2171.5,1243.4 2172.0,1285.0 2172.5,1201.7 2172.9,1169.4 2173.4,1211.1 2173.9,1137.1 2174.4,1255.9 2174.8,1221.0 2175.3,1211.1 2175.8,1184.7 2176.2,1231.8 2176.7,1231.8 2177.2,1106.0 2177.6,1321.4 2178.1,1221.0 2178.6,1162.4 2179.0,1243.4 2179.5,1211.1 2180.0,1162.4 2180.4,1302.0 2180.9,1096.9 2181.4,1192.9 2181.9,1285.0 2182.3,1321.4 2182.8,1201.7 2183.3,1255.9 2183.7,1211.1 2184.2,1201.7 2184.7,1255.9 2185.1,1201.7 2185.6,1084.4 2186.1,1302.0 2186.5,1255.9 2187.0,1285.0 2187.5,1201.7 2187.9,1285.0 2188.4,1092.6 2188.9,1231.8 2189.4,1143.0 2189.8,1192.9"/>
</g>
<line x1="1889.2" y1="85.75" x2="2072.9" y2="85.75" stroke="#0000ff" stroke-width="4.5" stroke-linecap="round"/><line x1="1889.2" y1="190" x2="2072.9" y2="190" stroke="#ff0000" stroke-width="4.5" stroke-linecap="round"/>
<path d="M314.7,16.25 L314.7,1552.5 L2189.8,1552.5 L2189.8,16.25" fill="none" stroke="#000" stroke-width="6.2" stroke-linejoin="miter"/><line x1="314.7" y1="18.85" x2="2192.9" y2="18.85" stroke="#000" stroke-width="5.4"/><line x1="314.70" y1="1552.40" x2="284.20" y2="1552.40" stroke="#000" stroke-width="6.2" stroke-linecap="round"/><line x1="314.70" y1="1452.08" x2="299.20" y2="1452.08" stroke="#000" stroke-width="6.2" stroke-linecap="round"/><line x1="314.70" y1="1393.40" x2="299.20" y2="1393.40" stroke="#000" stroke-width="6.2" stroke-linecap="round"/><line x1="314.70" y1="1351.76" x2="299.20" y2="1351.76" stroke="#000" stroke-width="6.2" stroke-linecap="round"/><line x1="314.70" y1="1319.47" x2="299.20" y2="1319.47" stroke="#000" stroke-width="6.2" stroke-linecap="round"/><line x1="314.70" y1="1293.08" x2="299.20" y2="1293.08" stroke="#000" stroke-width="6.2" stroke-linecap="round"/><line x1="314.70" y1="1270.77" x2="299.20" y2="1270.77" stroke="#000" stroke-width="6.2" stroke-linecap="round"/><line x1="314.70" y1="1251.45" x2="299.20" y2="1251.45" stroke="#000" stroke-width="6.2" stroke-linecap="round"/><line x1="314.70" y1="1234.40" x2="299.20" y2="1234.40" stroke="#000" stroke-width="6.2" stroke-linecap="round"/><line x1="314.70" y1="1219.15" x2="284.20" y2="1219.15" stroke="#000" stroke-width="6.2" stroke-linecap="round"/><line x1="314.70" y1="1118.83" x2="299.20" y2="1118.83" stroke="#000" stroke-width="6.2" stroke-linecap="round"/><line x1="314.70" y1="1060.15" x2="299.20" y2="1060.15" stroke="#000" stroke-width="6.2" stroke-linecap="round"/><line x1="314.70" y1="1018.51" x2="299.20" y2="1018.51" stroke="#000" stroke-width="6.2" stroke-linecap="round"/><line x1="314.70" y1="986.22" x2="299.20" y2="986.22" stroke="#000" stroke-width="6.2" stroke-linecap="round"/><line x1="314.70" y1="959.83" x2="299.20" y2="959.83" stroke="#000" stroke-width="6.2" stroke-linecap="round"/><line x1="314.70" y1="937.52" x2="299.20" y2="937.52" stroke="#000" stroke-width="6.2" stroke-linecap="round"/><line x1="314.70" y1="918.20" x2="299.20" y2="918.20" stroke="#000" stroke-width="6.2" stroke-linecap="round"/><line x1="314.70" y1="901.15" x2="299.20" y2="901.15" stroke="#000" stroke-width="6.2" stroke-linecap="round"/><line x1="314.70" y1="885.90" x2="284.20" y2="885.90" stroke="#000" stroke-width="6.2" stroke-linecap="round"/><line x1="314.70" y1="785.58" x2="299.20" y2="785.58" stroke="#000" stroke-width="6.2" stroke-linecap="round"/><line x1="314.70" y1="726.90" x2="299.20" y2="726.90" stroke="#000" stroke-width="6.2" stroke-linecap="round"/><line x1="314.70" y1="685.26" x2="299.20" y2="685.26" stroke="#000" stroke-width="6.2" stroke-linecap="round"/><line x1="314.70" y1="652.97" x2="299.20" y2="652.97" stroke="#000" stroke-width="6.2" stroke-linecap="round"/><line x1="314.70" y1="626.58" x2="299.20" y2="626.58" stroke="#000" stroke-width="6.2" stroke-linecap="round"/><line x1="314.70" y1="604.27" x2="299.20" y2="604.27" stroke="#000" stroke-width="6.2" stroke-linecap="round"/><line x1="314.70" y1="584.95" x2="299.20" y2="584.95" stroke="#000" stroke-width="6.2" stroke-linecap="round"/><line x1="314.70" y1="567.90" x2="299.20" y2="567.90" stroke="#000" stroke-width="6.2" stroke-linecap="round"/><line x1="314.70" y1="552.65" x2="284.20" y2="552.65" stroke="#000" stroke-width="6.2" stroke-linecap="round"/><line x1="314.70" y1="452.33" x2="299.20" y2="452.33" stroke="#000" stroke-width="6.2" stroke-linecap="round"/><line x1="314.70" y1="393.65" x2="299.20" y2="393.65" stroke="#000" stroke-width="6.2" stroke-linecap="round"/><line x1="314.70" y1="352.01" x2="299.20" y2="352.01" stroke="#000" stroke-width="6.2" stroke-linecap="round"/><line x1="314.70" y1="319.72" x2="299.20" y2="319.72" stroke="#000" stroke-width="6.2" stroke-linecap="round"/><line x1="314.70" y1="293.33" x2="299.20" y2="293.33" stroke="#000" stroke-width="6.2" stroke-linecap="round"/><line x1="314.70" y1="271.02" x2="299.20" y2="271.02" stroke="#000" stroke-width="6.2" stroke-linecap="round"/><line x1="314.70" y1="251.70" x2="299.20" y2="251.70" stroke="#000" stroke-width="6.2" stroke-linecap="round"/><line x1="314.70" y1="234.65" x2="299.20" y2="234.65" stroke="#000" stroke-width="6.2" stroke-linecap="round"/><line x1="314.70" y1="219.40" x2="284.20" y2="219.40" stroke="#000" stroke-width="6.2" stroke-linecap="round"/><line x1="314.70" y1="119.08" x2="299.20" y2="119.08" stroke="#000" stroke-width="6.2" stroke-linecap="round"/><line x1="314.70" y1="60.40" x2="299.20" y2="60.40" stroke="#000" stroke-width="6.2" stroke-linecap="round"/><line x1="314.70" y1="18.76" x2="299.20" y2="18.76" stroke="#000" stroke-width="6.2" stroke-linecap="round"/><line x1="314.70" y1="1552.50" x2="314.70" y2="1582.50" stroke="#000" stroke-width="6.2" stroke-linecap="round"/><line x1="431.89" y1="1552.50" x2="431.89" y2="1566.50" stroke="#000" stroke-width="6.2" stroke-linecap="round"/><line x1="549.09" y1="1552.50" x2="549.09" y2="1566.50" stroke="#000" stroke-width="6.2" stroke-linecap="round"/><line x1="666.28" y1="1552.50" x2="666.28" y2="1566.50" stroke="#000" stroke-width="6.2" stroke-linecap="round"/><line x1="783.48" y1="1552.50" x2="783.48" y2="1582.50" stroke="#000" stroke-width="6.2" stroke-linecap="round"/><line x1="900.67" y1="1552.50" x2="900.67" y2="1566.50" stroke="#000" stroke-width="6.2" stroke-linecap="round"/><line x1="1017.87" y1="1552.50" x2="1017.87" y2="1566.50" stroke="#000" stroke-width="6.2" stroke-linecap="round"/><line x1="1135.07" y1="1552.50" x2="1135.07" y2="1566.50" stroke="#000" stroke-width="6.2" stroke-linecap="round"/><line x1="1252.26" y1="1552.50" x2="1252.26" y2="1582.50" stroke="#000" stroke-width="6.2" stroke-linecap="round"/><line x1="1369.45" y1="1552.50" x2="1369.45" y2="1566.50" stroke="#000" stroke-width="6.2" stroke-linecap="round"/><line x1="1486.65" y1="1552.50" x2="1486.65" y2="1566.50" stroke="#000" stroke-width="6.2" stroke-linecap="round"/><line x1="1603.85" y1="1552.50" x2="1603.85" y2="1566.50" stroke="#000" stroke-width="6.2" stroke-linecap="round"/><line x1="1721.04" y1="1552.50" x2="1721.04" y2="1582.50" stroke="#000" stroke-width="6.2" stroke-linecap="round"/><line x1="1838.23" y1="1552.50" x2="1838.23" y2="1566.50" stroke="#000" stroke-width="6.2" stroke-linecap="round"/><line x1="1955.43" y1="1552.50" x2="1955.43" y2="1566.50" stroke="#000" stroke-width="6.2" stroke-linecap="round"/><line x1="2072.62" y1="1552.50" x2="2072.62" y2="1566.50" stroke="#000" stroke-width="6.2" stroke-linecap="round"/><line x1="2189.82" y1="1552.50" x2="2189.82" y2="1582.50" stroke="#000" stroke-width="6.2" stroke-linecap="round"/>
<g font-family="'Liberation Sans', Arial, sans-serif" fill="#000">
<text transform="translate(314.70,1657.70) scale(1,1.04)" font-size="68" text-anchor="middle">0</text><text transform="translate(783.48,1657.70) scale(1,1.04)" font-size="68" text-anchor="middle">1000</text><text transform="translate(1252.26,1657.70) scale(1,1.04)" font-size="68" text-anchor="middle">2000</text><text transform="translate(1721.04,1657.70) scale(1,1.04)" font-size="68" text-anchor="middle">3000</text><text transform="translate(2189.82,1657.70) scale(1,1.04)" font-size="68" text-anchor="middle">4000</text><text transform="translate(238.66,1577.10) scale(1,1.04)" font-size="68" text-anchor="end">10</text><text transform="translate(239.00,1542.80) scale(1,1.04)" font-size="39.4">0</text><text transform="translate(238.66,1243.85) scale(1,1.04)" font-size="68" text-anchor="end">10</text><text transform="translate(239.00,1209.55) scale(1,1.04)" font-size="39.4">1</text><text transform="translate(238.66,910.60) scale(1,1.04)" font-size="68" text-anchor="end">10</text><text transform="translate(239.00,876.30) scale(1,1.04)" font-size="39.4">2</text><text transform="translate(238.66,577.35) scale(1,1.04)" font-size="68" text-anchor="end">10</text><text transform="translate(239.00,543.05) scale(1,1.04)" font-size="39.4">3</text><text transform="translate(238.66,244.10) scale(1,1.04)" font-size="68" text-anchor="end">10</text><text transform="translate(239.00,209.80) scale(1,1.04)" font-size="39.4">4</text><text transform="translate(1089.15,1753.30) scale(1,1.04)" font-size="82.4">Time (s)</text><text transform="translate(90.80,1110.20) rotate(-90) scale(1,1.04)" font-size="82.4">Intensity (counts)</text><text transform="translate(656.74,99.50) scale(1,1.03)" font-size="56.3">T = 300 K,</text><text transform="translate(931.67,99.80)" font-size="49.3" font-family="'Noto Serif CJK SC', 'Liberation Serif', serif">λ</text><text transform="translate(961.64,120.30)" font-size="34.5">ex</text><text transform="translate(1012.95,99.50) scale(1,1.03)" font-size="56.3">= 397 nm,</text><text transform="translate(1283.47,99.80)" font-size="49.3" font-family="'Noto Serif CJK SC', 'Liberation Serif', serif">λ</text><text transform="translate(1312.64,120.30)" font-size="34.5">em</text><text transform="translate(1375.35,99.50) scale(1,1.03)" font-size="56.3">= 520 nm</text><text transform="translate(2096.61,113.40) scale(1,1.04)" font-size="83.5" font-weight="bold">F</text><text transform="translate(2093.92,217.40) scale(1,1.04)" font-size="83.5" font-weight="bold">A</text>
</g>
</svg>
</body></html>
